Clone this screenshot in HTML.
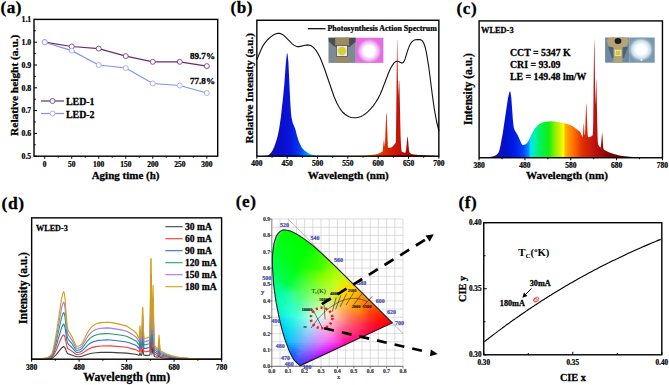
<!DOCTYPE html>
<html><head><meta charset="utf-8"><style>
html,body{margin:0;padding:0;background:#fff;width:669px;height:385px;overflow:hidden}
svg{display:block}
</style></head><body><svg width="669" height="385" viewBox="0 0 669 385"><defs><linearGradient id="gb" gradientUnits="userSpaceOnUse" x1="256.85" y1="0" x2="438.85" y2="0"><stop offset="0" stop-color="#1c0c86"/><stop offset="0.08" stop-color="#1010b8"/><stop offset="0.13" stop-color="#0a0ec8"/><stop offset="0.18" stop-color="#0a14dc"/><stop offset="0.23" stop-color="#0034f0"/><stop offset="0.26" stop-color="#0070ff"/><stop offset="0.29" stop-color="#00b8ff"/><stop offset="0.32" stop-color="#00e0e0"/><stop offset="0.35" stop-color="#00f090"/><stop offset="0.4" stop-color="#30f030"/><stop offset="0.53" stop-color="#f0f000"/><stop offset="0.6" stop-color="#ffa000"/><stop offset="0.66" stop-color="#f04800"/><stop offset="0.71" stop-color="#dc2800"/><stop offset="0.77" stop-color="#c81408"/><stop offset="0.83" stop-color="#a80c04"/><stop offset="0.93" stop-color="#800400"/><stop offset="1" stop-color="#600000"/></linearGradient><radialGradient id="pinkglow"><stop offset="0" stop-color="#fff"/><stop offset="0.45" stop-color="#fff"/><stop offset="0.75" stop-color="#f4b8f4"/><stop offset="1" stop-color="#e274e2"/></radialGradient><linearGradient id="gc" gradientUnits="userSpaceOnUse" x1="479.1" y1="0" x2="662.45" y2="0"><stop offset="0" stop-color="#1a0a7a"/><stop offset="0.1" stop-color="#1a10a8"/><stop offset="0.15" stop-color="#0010d0"/><stop offset="0.2" stop-color="#0020e8"/><stop offset="0.24" stop-color="#0040ff"/><stop offset="0.27" stop-color="#0090ff"/><stop offset="0.28" stop-color="#00e0ff"/><stop offset="0.3" stop-color="#00f0b8"/><stop offset="0.33" stop-color="#00f060"/><stop offset="0.38" stop-color="#10f010"/><stop offset="0.41" stop-color="#80f000"/><stop offset="0.44" stop-color="#d0f000"/><stop offset="0.46" stop-color="#ffff00"/><stop offset="0.47" stop-color="#ffb400"/><stop offset="0.52" stop-color="#ff6800"/><stop offset="0.56" stop-color="#e03200"/><stop offset="0.62" stop-color="#c41410"/><stop offset="0.7" stop-color="#880404"/><stop offset="0.8" stop-color="#560000"/><stop offset="1" stop-color="#300000"/></linearGradient><radialGradient id="whiteglow"><stop offset="0" stop-color="#fff"/><stop offset="0.4" stop-color="#fbfdff"/><stop offset="0.7" stop-color="#c8dbe6"/><stop offset="1" stop-color="#7a9ab0" stop-opacity="0"/></radialGradient><clipPath id="gam"><path d="M300.3,365.6L300,365.6L299.6,365.4L295.9,362L294,359.9L292.5,357.6L290.8,354.3L289.2,350.9L285.3,340.7L282.3,330.8L279.2,318.1L276.2,302.8L274.4,290.6L273.4,282.2L272.5,266.4L272.4,259.1L272.5,255.7L273.1,249.1L274,243.5L274.6,241.1L276.2,236.5L277.2,234.7L278.1,233.4L280.3,231.4L281.5,230.6L282.7,230L283.9,229.8L285.2,229.9L287.8,230.4L290.5,231.1L293.2,232.2L298.4,235.1L303.4,238.4L308.2,241.9L313,245.7L322.4,254.1L334.1,265.2L392.3,322.9Z"/></clipPath><linearGradient id="r0" gradientUnits="userSpaceOnUse" x1="279.2" x2="291.2" y1="0" y2="0"><stop offset="0" stop-color="#c8c8c8"/><stop offset="0.5" stop-color="#00ff00"/><stop offset="1" stop-color="#00ff00"/></linearGradient><linearGradient id="r1" gradientUnits="userSpaceOnUse" x1="276.8" x2="296.2" y1="0" y2="0"><stop offset="0" stop-color="#c8c8c8"/><stop offset="0.33" stop-color="#00ff02"/><stop offset="0.67" stop-color="#00ff00"/><stop offset="1" stop-color="#00ff00"/></linearGradient><linearGradient id="r2" gradientUnits="userSpaceOnUse" x1="275.2" x2="299.8" y1="0" y2="0"><stop offset="0" stop-color="#c8c8c8"/><stop offset="0.25" stop-color="#00ff08"/><stop offset="0.5" stop-color="#00ff00"/><stop offset="0.75" stop-color="#00ff00"/><stop offset="1" stop-color="#00ff00"/></linearGradient><linearGradient id="r3" gradientUnits="userSpaceOnUse" x1="274.2" x2="302.8" y1="0" y2="0"><stop offset="0" stop-color="#c8c8c8"/><stop offset="0.2" stop-color="#00ff0c"/><stop offset="0.4" stop-color="#00ff05"/><stop offset="0.6" stop-color="#00ff00"/><stop offset="0.8" stop-color="#00ff00"/><stop offset="1" stop-color="#00ff00"/></linearGradient><linearGradient id="r4" gradientUnits="userSpaceOnUse" x1="273.8" x2="305.8" y1="0" y2="0"><stop offset="0" stop-color="#c8c8c8"/><stop offset="0.17" stop-color="#00ff11"/><stop offset="0.33" stop-color="#00ff0a"/><stop offset="0.5" stop-color="#00ff03"/><stop offset="0.67" stop-color="#00ff00"/><stop offset="0.83" stop-color="#00ff00"/><stop offset="1" stop-color="#00ff00"/></linearGradient><linearGradient id="r5" gradientUnits="userSpaceOnUse" x1="272.8" x2="308.8" y1="0" y2="0"><stop offset="0" stop-color="#c8c8c8"/><stop offset="0.14" stop-color="#00ff15"/><stop offset="0.29" stop-color="#00ff0f"/><stop offset="0.43" stop-color="#00ff08"/><stop offset="0.57" stop-color="#00ff01"/><stop offset="0.71" stop-color="#00ff00"/><stop offset="0.86" stop-color="#00ff00"/><stop offset="1" stop-color="#0cfe00"/></linearGradient><linearGradient id="r6" gradientUnits="userSpaceOnUse" x1="272.2" x2="311.2" y1="0" y2="0"><stop offset="0" stop-color="#c8c8c8"/><stop offset="0.14" stop-color="#00ff18"/><stop offset="0.29" stop-color="#00ff11"/><stop offset="0.43" stop-color="#00ff0a"/><stop offset="0.57" stop-color="#00ff03"/><stop offset="0.71" stop-color="#00ff00"/><stop offset="0.86" stop-color="#00ff00"/><stop offset="1" stop-color="#17fc00"/></linearGradient><linearGradient id="r7" gradientUnits="userSpaceOnUse" x1="272.2" x2="313.8" y1="0" y2="0"><stop offset="0" stop-color="#c8c8c8"/><stop offset="0.12" stop-color="#00ff1c"/><stop offset="0.25" stop-color="#00ff15"/><stop offset="0.38" stop-color="#00ff0f"/><stop offset="0.5" stop-color="#00ff08"/><stop offset="0.62" stop-color="#00ff01"/><stop offset="0.75" stop-color="#00ff00"/><stop offset="0.88" stop-color="#00ff00"/><stop offset="1" stop-color="#22fb00"/></linearGradient><linearGradient id="r8" gradientUnits="userSpaceOnUse" x1="271.8" x2="316.2" y1="0" y2="0"><stop offset="0" stop-color="#c8c8c8"/><stop offset="0.12" stop-color="#00ff1d"/><stop offset="0.25" stop-color="#00ff17"/><stop offset="0.38" stop-color="#00ff11"/><stop offset="0.5" stop-color="#00ff0a"/><stop offset="0.62" stop-color="#00ff02"/><stop offset="0.75" stop-color="#00ff00"/><stop offset="0.88" stop-color="#07ff00"/><stop offset="1" stop-color="#2dfa00"/></linearGradient><linearGradient id="r9" gradientUnits="userSpaceOnUse" x1="271.2" x2="318.2" y1="0" y2="0"><stop offset="0" stop-color="#00ff2b"/><stop offset="0.11" stop-color="#00ff22"/><stop offset="0.22" stop-color="#00ff19"/><stop offset="0.33" stop-color="#00ff13"/><stop offset="0.44" stop-color="#00ff0e"/><stop offset="0.56" stop-color="#00ff08"/><stop offset="0.67" stop-color="#00ff02"/><stop offset="0.78" stop-color="#05ff00"/><stop offset="0.89" stop-color="#13ff00"/><stop offset="1" stop-color="#33f900"/></linearGradient><linearGradient id="r10" gradientUnits="userSpaceOnUse" x1="271.2" x2="320.8" y1="0" y2="0"><stop offset="0" stop-color="#00ff2f"/><stop offset="0.11" stop-color="#00ff25"/><stop offset="0.22" stop-color="#00ff19"/><stop offset="0.33" stop-color="#00ff13"/><stop offset="0.44" stop-color="#00ff0d"/><stop offset="0.56" stop-color="#00ff07"/><stop offset="0.67" stop-color="#01ff01"/><stop offset="0.78" stop-color="#0cff00"/><stop offset="0.89" stop-color="#20ff00"/><stop offset="1" stop-color="#40f800"/></linearGradient><linearGradient id="r11" gradientUnits="userSpaceOnUse" x1="270.8" x2="322.8" y1="0" y2="0"><stop offset="0" stop-color="#00ff33"/><stop offset="0.1" stop-color="#00ff2b"/><stop offset="0.2" stop-color="#00ff1c"/><stop offset="0.3" stop-color="#00ff15"/><stop offset="0.4" stop-color="#00ff10"/><stop offset="0.5" stop-color="#00ff0a"/><stop offset="0.6" stop-color="#00ff04"/><stop offset="0.7" stop-color="#0aff00"/><stop offset="0.8" stop-color="#14ff00"/><stop offset="0.9" stop-color="#2cff00"/><stop offset="1" stop-color="#4bf900"/></linearGradient><linearGradient id="r12" gradientUnits="userSpaceOnUse" x1="270.8" x2="324.8" y1="0" y2="0"><stop offset="0" stop-color="#00ff37"/><stop offset="0.1" stop-color="#00ff2f"/><stop offset="0.2" stop-color="#00ff1f"/><stop offset="0.3" stop-color="#00ff15"/><stop offset="0.4" stop-color="#00ff0f"/><stop offset="0.5" stop-color="#00ff09"/><stop offset="0.6" stop-color="#02ff04"/><stop offset="0.7" stop-color="#10ff00"/><stop offset="0.8" stop-color="#1bff00"/><stop offset="0.9" stop-color="#36ff00"/><stop offset="1" stop-color="#56f900"/></linearGradient><linearGradient id="r13" gradientUnits="userSpaceOnUse" x1="270.8" x2="327.2" y1="0" y2="0"><stop offset="0" stop-color="#00ff3b"/><stop offset="0.09" stop-color="#00ff34"/><stop offset="0.18" stop-color="#00ff24"/><stop offset="0.27" stop-color="#00ff17"/><stop offset="0.36" stop-color="#00ff11"/><stop offset="0.45" stop-color="#00ff0c"/><stop offset="0.55" stop-color="#00ff06"/><stop offset="0.64" stop-color="#0eff03"/><stop offset="0.73" stop-color="#1aff00"/><stop offset="0.82" stop-color="#29ff00"/><stop offset="0.91" stop-color="#45ff00"/><stop offset="1" stop-color="#64f900"/></linearGradient><linearGradient id="r14" gradientUnits="userSpaceOnUse" x1="270.8" x2="329.2" y1="0" y2="0"><stop offset="0" stop-color="#00ff3f"/><stop offset="0.09" stop-color="#00ff37"/><stop offset="0.18" stop-color="#00ff27"/><stop offset="0.27" stop-color="#00ff18"/><stop offset="0.36" stop-color="#00ff11"/><stop offset="0.45" stop-color="#00ff0b"/><stop offset="0.55" stop-color="#05ff06"/><stop offset="0.64" stop-color="#13ff03"/><stop offset="0.73" stop-color="#20ff00"/><stop offset="0.82" stop-color="#32ff00"/><stop offset="0.91" stop-color="#4fff00"/><stop offset="1" stop-color="#6ef900"/></linearGradient><linearGradient id="r15" gradientUnits="userSpaceOnUse" x1="270.8" x2="331.2" y1="0" y2="0"><stop offset="0" stop-color="#00ff43"/><stop offset="0.08" stop-color="#00ff3c"/><stop offset="0.17" stop-color="#00ff2d"/><stop offset="0.25" stop-color="#00ff1e"/><stop offset="0.33" stop-color="#00ff13"/><stop offset="0.42" stop-color="#00ff0e"/><stop offset="0.5" stop-color="#03ff08"/><stop offset="0.58" stop-color="#10ff05"/><stop offset="0.67" stop-color="#1dff02"/><stop offset="0.75" stop-color="#29ff00"/><stop offset="0.83" stop-color="#40ff00"/><stop offset="0.92" stop-color="#5bff00"/><stop offset="1" stop-color="#79f900"/></linearGradient><linearGradient id="r16" gradientUnits="userSpaceOnUse" x1="270.8" x2="333.2" y1="0" y2="0"><stop offset="0" stop-color="#00ff47"/><stop offset="0.08" stop-color="#00ff40"/><stop offset="0.17" stop-color="#00ff30"/><stop offset="0.25" stop-color="#00ff21"/><stop offset="0.33" stop-color="#00ff13"/><stop offset="0.42" stop-color="#00ff0d"/><stop offset="0.5" stop-color="#08ff09"/><stop offset="0.58" stop-color="#15ff06"/><stop offset="0.67" stop-color="#23ff02"/><stop offset="0.75" stop-color="#2fff00"/><stop offset="0.83" stop-color="#49ff00"/><stop offset="0.92" stop-color="#65ff00"/><stop offset="1" stop-color="#84fa00"/></linearGradient><linearGradient id="r17" gradientUnits="userSpaceOnUse" x1="270.8" x2="335.2" y1="0" y2="0"><stop offset="0" stop-color="#00ff4b"/><stop offset="0.08" stop-color="#00ff43"/><stop offset="0.17" stop-color="#00ff33"/><stop offset="0.25" stop-color="#00ff23"/><stop offset="0.33" stop-color="#00ff13"/><stop offset="0.42" stop-color="#00ff0d"/><stop offset="0.5" stop-color="#0dff09"/><stop offset="0.58" stop-color="#1bff06"/><stop offset="0.67" stop-color="#29ff02"/><stop offset="0.75" stop-color="#36ff00"/><stop offset="0.83" stop-color="#53ff00"/><stop offset="0.92" stop-color="#6fff00"/><stop offset="1" stop-color="#8ffa00"/></linearGradient><linearGradient id="r18" gradientUnits="userSpaceOnUse" x1="270.8" x2="337.2" y1="0" y2="0"><stop offset="0" stop-color="#00ff4f"/><stop offset="0.08" stop-color="#00ff48"/><stop offset="0.15" stop-color="#00ff39"/><stop offset="0.23" stop-color="#00ff2a"/><stop offset="0.31" stop-color="#00ff1b"/><stop offset="0.38" stop-color="#00ff0f"/><stop offset="0.46" stop-color="#0bff0b"/><stop offset="0.54" stop-color="#18ff08"/><stop offset="0.62" stop-color="#25ff05"/><stop offset="0.69" stop-color="#33ff01"/><stop offset="0.77" stop-color="#45ff00"/><stop offset="0.85" stop-color="#60ff00"/><stop offset="0.92" stop-color="#83ff01"/><stop offset="1" stop-color="#9cf901"/></linearGradient><linearGradient id="r19" gradientUnits="userSpaceOnUse" x1="270.8" x2="339.8" y1="0" y2="0"><stop offset="0" stop-color="#00ff53"/><stop offset="0.08" stop-color="#00ff4c"/><stop offset="0.15" stop-color="#00ff3c"/><stop offset="0.23" stop-color="#00ff2c"/><stop offset="0.31" stop-color="#00ff1c"/><stop offset="0.38" stop-color="#02ff0f"/><stop offset="0.46" stop-color="#10ff0c"/><stop offset="0.54" stop-color="#1eff08"/><stop offset="0.62" stop-color="#2bff05"/><stop offset="0.69" stop-color="#39ff01"/><stop offset="0.77" stop-color="#54ff00"/><stop offset="0.85" stop-color="#7fff00"/><stop offset="0.92" stop-color="#91ff04"/><stop offset="1" stop-color="#aff603"/></linearGradient><linearGradient id="r20" gradientUnits="userSpaceOnUse" x1="270.8" x2="341.8" y1="0" y2="0"><stop offset="0" stop-color="#00ff57"/><stop offset="0.07" stop-color="#00ff50"/><stop offset="0.14" stop-color="#00ff41"/><stop offset="0.21" stop-color="#00ff32"/><stop offset="0.29" stop-color="#00ff23"/><stop offset="0.36" stop-color="#03ff15"/><stop offset="0.43" stop-color="#19ff0d"/><stop offset="0.5" stop-color="#27ff0a"/><stop offset="0.57" stop-color="#34ff06"/><stop offset="0.64" stop-color="#41ff03"/><stop offset="0.71" stop-color="#51ff00"/><stop offset="0.79" stop-color="#7aff00"/><stop offset="0.86" stop-color="#8eff04"/><stop offset="0.93" stop-color="#a2fd06"/><stop offset="1" stop-color="#bff405"/></linearGradient><linearGradient id="r21" gradientUnits="userSpaceOnUse" x1="270.8" x2="343.8" y1="0" y2="0"><stop offset="0" stop-color="#00ff5b"/><stop offset="0.07" stop-color="#00ff54"/><stop offset="0.14" stop-color="#00ff45"/><stop offset="0.21" stop-color="#00ff35"/><stop offset="0.29" stop-color="#00ff24"/><stop offset="0.36" stop-color="#0bff1c"/><stop offset="0.43" stop-color="#22ff13"/><stop offset="0.5" stop-color="#39ff09"/><stop offset="0.57" stop-color="#47ff06"/><stop offset="0.64" stop-color="#54ff02"/><stop offset="0.71" stop-color="#6cff00"/><stop offset="0.79" stop-color="#89ff02"/><stop offset="0.86" stop-color="#9aff07"/><stop offset="0.93" stop-color="#b2fb08"/><stop offset="1" stop-color="#cff207"/></linearGradient><linearGradient id="r22" gradientUnits="userSpaceOnUse" x1="271.2" x2="345.8" y1="0" y2="0"><stop offset="0" stop-color="#00ff5f"/><stop offset="0.07" stop-color="#00ff56"/><stop offset="0.14" stop-color="#00ff46"/><stop offset="0.21" stop-color="#00ff35"/><stop offset="0.29" stop-color="#00ff24"/><stop offset="0.36" stop-color="#14ff22"/><stop offset="0.43" stop-color="#2cff19"/><stop offset="0.5" stop-color="#43ff0f"/><stop offset="0.57" stop-color="#5aff05"/><stop offset="0.64" stop-color="#68ff01"/><stop offset="0.71" stop-color="#83ff01"/><stop offset="0.79" stop-color="#95ff05"/><stop offset="0.86" stop-color="#a6ff0a"/><stop offset="0.93" stop-color="#c1f90a"/><stop offset="1" stop-color="#def008"/></linearGradient><linearGradient id="r23" gradientUnits="userSpaceOnUse" x1="271.2" x2="347.8" y1="0" y2="0"><stop offset="0" stop-color="#00ff67"/><stop offset="0.07" stop-color="#00ff5b"/><stop offset="0.13" stop-color="#00ff4a"/><stop offset="0.2" stop-color="#00ff3a"/><stop offset="0.27" stop-color="#00ff29"/><stop offset="0.33" stop-color="#14ff28"/><stop offset="0.4" stop-color="#2bff23"/><stop offset="0.47" stop-color="#41ff19"/><stop offset="0.53" stop-color="#58ff0f"/><stop offset="0.6" stop-color="#6eff06"/><stop offset="0.67" stop-color="#83ff01"/><stop offset="0.73" stop-color="#93ff05"/><stop offset="0.8" stop-color="#a4ff09"/><stop offset="0.87" stop-color="#b5ff0d"/><stop offset="0.93" stop-color="#d1f60c"/><stop offset="1" stop-color="#e5ea07"/></linearGradient><linearGradient id="r24" gradientUnits="userSpaceOnUse" x1="271.2" x2="349.8" y1="0" y2="0"><stop offset="0" stop-color="#00ff70"/><stop offset="0.07" stop-color="#00ff5f"/><stop offset="0.13" stop-color="#00ff4c"/><stop offset="0.2" stop-color="#00ff3b"/><stop offset="0.27" stop-color="#03ff2d"/><stop offset="0.33" stop-color="#1cff2f"/><stop offset="0.4" stop-color="#33ff2a"/><stop offset="0.47" stop-color="#4aff1f"/><stop offset="0.53" stop-color="#61ff15"/><stop offset="0.6" stop-color="#78ff0b"/><stop offset="0.67" stop-color="#8cff07"/><stop offset="0.73" stop-color="#9eff09"/><stop offset="0.8" stop-color="#b0ff0c"/><stop offset="0.87" stop-color="#c4fd0f"/><stop offset="0.93" stop-color="#d8f10a"/><stop offset="1" stop-color="#ece405"/></linearGradient><linearGradient id="r25" gradientUnits="userSpaceOnUse" x1="271.2" x2="351.8" y1="0" y2="0"><stop offset="0" stop-color="#00ff74"/><stop offset="0.06" stop-color="#00ff67"/><stop offset="0.12" stop-color="#00ff50"/><stop offset="0.19" stop-color="#00ff40"/><stop offset="0.25" stop-color="#04ff33"/><stop offset="0.31" stop-color="#1cff35"/><stop offset="0.38" stop-color="#33ff34"/><stop offset="0.44" stop-color="#49ff2a"/><stop offset="0.5" stop-color="#5fff20"/><stop offset="0.56" stop-color="#75ff16"/><stop offset="0.62" stop-color="#89ff0f"/><stop offset="0.69" stop-color="#9bff0f"/><stop offset="0.75" stop-color="#acff12"/><stop offset="0.81" stop-color="#bdff14"/><stop offset="0.88" stop-color="#ccf60d"/><stop offset="0.94" stop-color="#dfea08"/><stop offset="1" stop-color="#f2de03"/></linearGradient><linearGradient id="r26" gradientUnits="userSpaceOnUse" x1="271.8" x2="353.8" y1="0" y2="0"><stop offset="0" stop-color="#00ff78"/><stop offset="0.06" stop-color="#00ff72"/><stop offset="0.12" stop-color="#00ff53"/><stop offset="0.19" stop-color="#00ff40"/><stop offset="0.25" stop-color="#0dff39"/><stop offset="0.31" stop-color="#25ff3b"/><stop offset="0.38" stop-color="#3cff3a"/><stop offset="0.44" stop-color="#53ff30"/><stop offset="0.5" stop-color="#69ff26"/><stop offset="0.56" stop-color="#7fff1d"/><stop offset="0.62" stop-color="#93ff16"/><stop offset="0.69" stop-color="#a4ff18"/><stop offset="0.75" stop-color="#b6ff1a"/><stop offset="0.81" stop-color="#cbfa12"/><stop offset="0.88" stop-color="#d7ef0a"/><stop offset="0.94" stop-color="#e6e406"/><stop offset="1" stop-color="#f9d802"/></linearGradient><linearGradient id="r27" gradientUnits="userSpaceOnUse" x1="271.8" x2="355.8" y1="0" y2="0"><stop offset="0" stop-color="#00ff7d"/><stop offset="0.06" stop-color="#00ff81"/><stop offset="0.12" stop-color="#00ff60"/><stop offset="0.19" stop-color="#00ff41"/><stop offset="0.25" stop-color="#14ff40"/><stop offset="0.31" stop-color="#2cff42"/><stop offset="0.38" stop-color="#45ff40"/><stop offset="0.44" stop-color="#5cff36"/><stop offset="0.5" stop-color="#72ff2c"/><stop offset="0.56" stop-color="#87ff25"/><stop offset="0.62" stop-color="#9bff1e"/><stop offset="0.69" stop-color="#aeff20"/><stop offset="0.75" stop-color="#bfff22"/><stop offset="0.81" stop-color="#d9f30c"/><stop offset="0.88" stop-color="#e3e907"/><stop offset="0.94" stop-color="#ecdf05"/><stop offset="1" stop-color="#ffd100"/></linearGradient><linearGradient id="r28" gradientUnits="userSpaceOnUse" x1="271.8" x2="357.8" y1="0" y2="0"><stop offset="0" stop-color="#00ff81"/><stop offset="0.06" stop-color="#00ff91"/><stop offset="0.12" stop-color="#00ff71"/><stop offset="0.18" stop-color="#00ff52"/><stop offset="0.24" stop-color="#15ff46"/><stop offset="0.29" stop-color="#2dff48"/><stop offset="0.35" stop-color="#44ff4a"/><stop offset="0.41" stop-color="#5bff40"/><stop offset="0.47" stop-color="#70ff37"/><stop offset="0.53" stop-color="#84ff30"/><stop offset="0.59" stop-color="#98ff2a"/><stop offset="0.65" stop-color="#abff26"/><stop offset="0.71" stop-color="#bcff28"/><stop offset="0.76" stop-color="#d3f518"/><stop offset="0.82" stop-color="#e9ea06"/><stop offset="0.88" stop-color="#f0e104"/><stop offset="0.94" stop-color="#f6d702"/><stop offset="1" stop-color="#ffc500"/></linearGradient><linearGradient id="r29" gradientUnits="userSpaceOnUse" x1="272.2" x2="359.8" y1="0" y2="0"><stop offset="0" stop-color="#00ff85"/><stop offset="0.06" stop-color="#00ff99"/><stop offset="0.12" stop-color="#00ff7c"/><stop offset="0.18" stop-color="#0bff64"/><stop offset="0.24" stop-color="#1fff53"/><stop offset="0.29" stop-color="#36ff4e"/><stop offset="0.35" stop-color="#4eff50"/><stop offset="0.41" stop-color="#64ff46"/><stop offset="0.47" stop-color="#79ff3e"/><stop offset="0.53" stop-color="#8dff38"/><stop offset="0.59" stop-color="#a1ff31"/><stop offset="0.65" stop-color="#b4ff2e"/><stop offset="0.71" stop-color="#c8fb28"/><stop offset="0.76" stop-color="#e2ee12"/><stop offset="0.82" stop-color="#f5e303"/><stop offset="0.88" stop-color="#fcda01"/><stop offset="0.94" stop-color="#ffcf00"/><stop offset="1" stop-color="#ffb900"/></linearGradient><linearGradient id="r30" gradientUnits="userSpaceOnUse" x1="272.2" x2="361.8" y1="0" y2="0"><stop offset="0" stop-color="#00ff8a"/><stop offset="0.06" stop-color="#00ff9d"/><stop offset="0.12" stop-color="#00ff89"/><stop offset="0.18" stop-color="#14ff78"/><stop offset="0.24" stop-color="#29ff67"/><stop offset="0.29" stop-color="#3dff55"/><stop offset="0.35" stop-color="#56ff56"/><stop offset="0.41" stop-color="#6cff4d"/><stop offset="0.47" stop-color="#81ff46"/><stop offset="0.53" stop-color="#95ff3f"/><stop offset="0.59" stop-color="#aaff38"/><stop offset="0.65" stop-color="#bdff36"/><stop offset="0.71" stop-color="#d6f423"/><stop offset="0.76" stop-color="#f0e70c"/><stop offset="0.82" stop-color="#ffdc00"/><stop offset="0.88" stop-color="#ffd100"/><stop offset="0.94" stop-color="#ffc201"/><stop offset="1" stop-color="#ffad00"/></linearGradient><linearGradient id="r31" gradientUnits="userSpaceOnUse" x1="272.8" x2="363.8" y1="0" y2="0"><stop offset="0" stop-color="#00ff8e"/><stop offset="0.06" stop-color="#00ffa2"/><stop offset="0.11" stop-color="#08ff9d"/><stop offset="0.17" stop-color="#1cff8d"/><stop offset="0.22" stop-color="#2fff7d"/><stop offset="0.28" stop-color="#43ff6c"/><stop offset="0.33" stop-color="#57ff5d"/><stop offset="0.39" stop-color="#6cff57"/><stop offset="0.44" stop-color="#80ff51"/><stop offset="0.5" stop-color="#94ff4a"/><stop offset="0.56" stop-color="#a7ff44"/><stop offset="0.61" stop-color="#bbff3d"/><stop offset="0.67" stop-color="#d2f62d"/><stop offset="0.72" stop-color="#e9e919"/><stop offset="0.78" stop-color="#ffdc06"/><stop offset="0.83" stop-color="#ffd100"/><stop offset="0.89" stop-color="#ffc600"/><stop offset="0.94" stop-color="#ffb304"/><stop offset="1" stop-color="#ffa200"/></linearGradient><linearGradient id="r32" gradientUnits="userSpaceOnUse" x1="272.8" x2="365.8" y1="0" y2="0"><stop offset="0" stop-color="#00ff92"/><stop offset="0.06" stop-color="#00ffa6"/><stop offset="0.11" stop-color="#0cffaa"/><stop offset="0.17" stop-color="#20ff9a"/><stop offset="0.22" stop-color="#35ff89"/><stop offset="0.28" stop-color="#49ff78"/><stop offset="0.33" stop-color="#5dff67"/><stop offset="0.39" stop-color="#74ff61"/><stop offset="0.44" stop-color="#88ff5b"/><stop offset="0.5" stop-color="#9cff54"/><stop offset="0.56" stop-color="#b0ff4d"/><stop offset="0.61" stop-color="#c4fc45"/><stop offset="0.67" stop-color="#d8ee30"/><stop offset="0.72" stop-color="#eee01c"/><stop offset="0.78" stop-color="#ffd30a"/><stop offset="0.83" stop-color="#ffc800"/><stop offset="0.89" stop-color="#ffb802"/><stop offset="0.94" stop-color="#ffa704"/><stop offset="1" stop-color="#ff9600"/></linearGradient><linearGradient id="r33" gradientUnits="userSpaceOnUse" x1="273.2" x2="367.8" y1="0" y2="0"><stop offset="0" stop-color="#00ff96"/><stop offset="0.06" stop-color="#01ffab"/><stop offset="0.11" stop-color="#0fffb1"/><stop offset="0.17" stop-color="#23ff9f"/><stop offset="0.22" stop-color="#38ff8e"/><stop offset="0.28" stop-color="#4cff7d"/><stop offset="0.33" stop-color="#65ff71"/><stop offset="0.39" stop-color="#7dff6d"/><stop offset="0.44" stop-color="#92ff66"/><stop offset="0.5" stop-color="#a6ff5f"/><stop offset="0.56" stop-color="#bbff58"/><stop offset="0.61" stop-color="#cbf44a"/><stop offset="0.67" stop-color="#dde532"/><stop offset="0.72" stop-color="#f4d71e"/><stop offset="0.78" stop-color="#ffca0e"/><stop offset="0.83" stop-color="#ffbf01"/><stop offset="0.89" stop-color="#ffaa04"/><stop offset="0.94" stop-color="#ff9b04"/><stop offset="1" stop-color="#ff8a00"/></linearGradient><linearGradient id="r34" gradientUnits="userSpaceOnUse" x1="273.8" x2="369.8" y1="0" y2="0"><stop offset="0" stop-color="#00ff9b"/><stop offset="0.05" stop-color="#04ffac"/><stop offset="0.11" stop-color="#0fffb8"/><stop offset="0.16" stop-color="#23ffa8"/><stop offset="0.21" stop-color="#37ff98"/><stop offset="0.26" stop-color="#4aff87"/><stop offset="0.32" stop-color="#63ff7c"/><stop offset="0.37" stop-color="#7fff7a"/><stop offset="0.42" stop-color="#93ff74"/><stop offset="0.47" stop-color="#a6ff6d"/><stop offset="0.53" stop-color="#baff67"/><stop offset="0.58" stop-color="#cef862"/><stop offset="0.63" stop-color="#d6e542"/><stop offset="0.68" stop-color="#ead72e"/><stop offset="0.74" stop-color="#ffca1c"/><stop offset="0.79" stop-color="#ffbf10"/><stop offset="0.84" stop-color="#ffae02"/><stop offset="0.89" stop-color="#ff9a06"/><stop offset="0.95" stop-color="#ff8f04"/><stop offset="1" stop-color="#ff7e00"/></linearGradient><linearGradient id="r35" gradientUnits="userSpaceOnUse" x1="273.8" x2="371.8" y1="0" y2="0"><stop offset="0" stop-color="#00fda0"/><stop offset="0.05" stop-color="#07ffac"/><stop offset="0.11" stop-color="#11ffbc"/><stop offset="0.16" stop-color="#24ffaf"/><stop offset="0.21" stop-color="#38ff9e"/><stop offset="0.26" stop-color="#4cff8e"/><stop offset="0.32" stop-color="#6aff88"/><stop offset="0.37" stop-color="#87ff86"/><stop offset="0.42" stop-color="#9bff7f"/><stop offset="0.47" stop-color="#afff79"/><stop offset="0.53" stop-color="#c4fe74"/><stop offset="0.58" stop-color="#d5f168"/><stop offset="0.63" stop-color="#dddd48"/><stop offset="0.68" stop-color="#efce31"/><stop offset="0.74" stop-color="#ffc120"/><stop offset="0.79" stop-color="#ffb710"/><stop offset="0.84" stop-color="#ffa303"/><stop offset="0.89" stop-color="#ff8c08"/><stop offset="0.95" stop-color="#ff8304"/><stop offset="1" stop-color="#ff7300"/></linearGradient><linearGradient id="r36" gradientUnits="userSpaceOnUse" x1="274.2" x2="373.8" y1="0" y2="0"><stop offset="0" stop-color="#00fda5"/><stop offset="0.05" stop-color="#0affae"/><stop offset="0.11" stop-color="#15ffbe"/><stop offset="0.16" stop-color="#27ffb5"/><stop offset="0.21" stop-color="#3bffa4"/><stop offset="0.26" stop-color="#50ff93"/><stop offset="0.32" stop-color="#74ff94"/><stop offset="0.37" stop-color="#90ff91"/><stop offset="0.42" stop-color="#a5ff8a"/><stop offset="0.47" stop-color="#b9ff84"/><stop offset="0.53" stop-color="#d0fb85"/><stop offset="0.58" stop-color="#dcea6d"/><stop offset="0.63" stop-color="#e4d54d"/><stop offset="0.68" stop-color="#f5c534"/><stop offset="0.74" stop-color="#ffb924"/><stop offset="0.79" stop-color="#ffaf0e"/><stop offset="0.84" stop-color="#ff9804"/><stop offset="0.89" stop-color="#ff7e0a"/><stop offset="0.95" stop-color="#ff7704"/><stop offset="1" stop-color="#ff6900"/></linearGradient><linearGradient id="r37" gradientUnits="userSpaceOnUse" x1="274.2" x2="375.8" y1="0" y2="0"><stop offset="0" stop-color="#00faae"/><stop offset="0.05" stop-color="#0cffad"/><stop offset="0.1" stop-color="#17ffbd"/><stop offset="0.15" stop-color="#25ffbf"/><stop offset="0.2" stop-color="#39ffae"/><stop offset="0.25" stop-color="#4dff9e"/><stop offset="0.3" stop-color="#6fff9e"/><stop offset="0.35" stop-color="#91ff9f"/><stop offset="0.4" stop-color="#a5ff99"/><stop offset="0.45" stop-color="#b9ff92"/><stop offset="0.5" stop-color="#cffb93"/><stop offset="0.55" stop-color="#dfee86"/><stop offset="0.6" stop-color="#e7db66"/><stop offset="0.65" stop-color="#eec747"/><stop offset="0.7" stop-color="#ffb932"/><stop offset="0.75" stop-color="#ffaf1f"/><stop offset="0.8" stop-color="#ffa508"/><stop offset="0.85" stop-color="#ff8807"/><stop offset="0.9" stop-color="#ff6e0c"/><stop offset="0.95" stop-color="#ff6b04"/><stop offset="1" stop-color="#ff6000"/></linearGradient><linearGradient id="r38" gradientUnits="userSpaceOnUse" x1="274.8" x2="377.8" y1="0" y2="0"><stop offset="0" stop-color="#00f6b7"/><stop offset="0.05" stop-color="#0dfeb5"/><stop offset="0.1" stop-color="#1bffbe"/><stop offset="0.15" stop-color="#28ffc5"/><stop offset="0.2" stop-color="#3cffb4"/><stop offset="0.25" stop-color="#51ffa5"/><stop offset="0.3" stop-color="#7affaa"/><stop offset="0.35" stop-color="#9affaa"/><stop offset="0.4" stop-color="#afffa4"/><stop offset="0.45" stop-color="#c3fe9f"/><stop offset="0.5" stop-color="#dbf8a4"/><stop offset="0.55" stop-color="#e6e78b"/><stop offset="0.6" stop-color="#eed36b"/><stop offset="0.65" stop-color="#f6bf4b"/><stop offset="0.7" stop-color="#ffb034"/><stop offset="0.75" stop-color="#ffa71d"/><stop offset="0.8" stop-color="#ff9d06"/><stop offset="0.85" stop-color="#ff7d08"/><stop offset="0.9" stop-color="#ff620d"/><stop offset="0.95" stop-color="#ff5f04"/><stop offset="1" stop-color="#ff5700"/></linearGradient><linearGradient id="r39" gradientUnits="userSpaceOnUse" x1="275.2" x2="379.8" y1="0" y2="0"><stop offset="0" stop-color="#00f2c1"/><stop offset="0.05" stop-color="#0dfcbf"/><stop offset="0.1" stop-color="#1effc0"/><stop offset="0.15" stop-color="#2bffcb"/><stop offset="0.2" stop-color="#3fffba"/><stop offset="0.25" stop-color="#5bffb1"/><stop offset="0.3" stop-color="#84ffb6"/><stop offset="0.35" stop-color="#a4ffb6"/><stop offset="0.4" stop-color="#b8ffaf"/><stop offset="0.45" stop-color="#cffbaf"/><stop offset="0.5" stop-color="#e6f3b1"/><stop offset="0.55" stop-color="#eedf91"/><stop offset="0.6" stop-color="#f6cb70"/><stop offset="0.65" stop-color="#feb750"/><stop offset="0.7" stop-color="#ffa833"/><stop offset="0.75" stop-color="#ff9f1b"/><stop offset="0.8" stop-color="#ff9504"/><stop offset="0.85" stop-color="#ff7209"/><stop offset="0.9" stop-color="#ff560d"/><stop offset="0.95" stop-color="#ff5302"/><stop offset="1" stop-color="#ff4d00"/></linearGradient><linearGradient id="r40" gradientUnits="userSpaceOnUse" x1="275.8" x2="381.8" y1="0" y2="0"><stop offset="0" stop-color="#00efca"/><stop offset="0.05" stop-color="#0cfac9"/><stop offset="0.1" stop-color="#20fec4"/><stop offset="0.14" stop-color="#2cffd0"/><stop offset="0.19" stop-color="#3effc3"/><stop offset="0.24" stop-color="#5affbb"/><stop offset="0.29" stop-color="#82ffc0"/><stop offset="0.33" stop-color="#a6ffc3"/><stop offset="0.38" stop-color="#baffbd"/><stop offset="0.43" stop-color="#d0fbbe"/><stop offset="0.48" stop-color="#e7f4c3"/><stop offset="0.52" stop-color="#f1e2a7"/><stop offset="0.57" stop-color="#f8cf88"/><stop offset="0.62" stop-color="#feb965"/><stop offset="0.67" stop-color="#ffa146"/><stop offset="0.71" stop-color="#ff992e"/><stop offset="0.76" stop-color="#ff9116"/><stop offset="0.81" stop-color="#ff8405"/><stop offset="0.86" stop-color="#ff5c0f"/><stop offset="0.9" stop-color="#ff4a09"/><stop offset="0.95" stop-color="#ff4700"/><stop offset="1" stop-color="#ff4100"/></linearGradient><linearGradient id="r41" gradientUnits="userSpaceOnUse" x1="275.8" x2="383.8" y1="0" y2="0"><stop offset="0" stop-color="#00ebd3"/><stop offset="0.05" stop-color="#0af7d3"/><stop offset="0.1" stop-color="#1efcce"/><stop offset="0.14" stop-color="#2fffd1"/><stop offset="0.19" stop-color="#40ffca"/><stop offset="0.24" stop-color="#61ffc7"/><stop offset="0.29" stop-color="#89ffcc"/><stop offset="0.33" stop-color="#aeffcf"/><stop offset="0.38" stop-color="#c2fec9"/><stop offset="0.43" stop-color="#daf8ce"/><stop offset="0.48" stop-color="#f0f0ce"/><stop offset="0.52" stop-color="#f8dcae"/><stop offset="0.57" stop-color="#fcc58a"/><stop offset="0.62" stop-color="#ffac62"/><stop offset="0.67" stop-color="#ff9449"/><stop offset="0.71" stop-color="#ff8c31"/><stop offset="0.76" stop-color="#ff8519"/><stop offset="0.81" stop-color="#ff710f"/><stop offset="0.86" stop-color="#ff4919"/><stop offset="0.9" stop-color="#ff3f06"/><stop offset="0.95" stop-color="#ff3b00"/><stop offset="1" stop-color="#ff3500"/></linearGradient><linearGradient id="r42" gradientUnits="userSpaceOnUse" x1="276.2" x2="385.8" y1="0" y2="0"><stop offset="0" stop-color="#00e8dd"/><stop offset="0.05" stop-color="#0af5dd"/><stop offset="0.1" stop-color="#1efad8"/><stop offset="0.14" stop-color="#33ffd3"/><stop offset="0.19" stop-color="#43ffcf"/><stop offset="0.24" stop-color="#6affd3"/><stop offset="0.29" stop-color="#93ffd8"/><stop offset="0.33" stop-color="#b7ffda"/><stop offset="0.38" stop-color="#cdfbda"/><stop offset="0.43" stop-color="#e6f5df"/><stop offset="0.48" stop-color="#f7e9d4"/><stop offset="0.52" stop-color="#fbd1ae"/><stop offset="0.57" stop-color="#feb786"/><stop offset="0.62" stop-color="#ff9e64"/><stop offset="0.67" stop-color="#ff884b"/><stop offset="0.71" stop-color="#ff8033"/><stop offset="0.76" stop-color="#ff751f"/><stop offset="0.81" stop-color="#ff5d18"/><stop offset="0.86" stop-color="#ff3d18"/><stop offset="0.9" stop-color="#ff3303"/><stop offset="0.95" stop-color="#ff2f00"/><stop offset="1" stop-color="#ff2900"/></linearGradient><linearGradient id="r43" gradientUnits="userSpaceOnUse" x1="276.8" x2="387.8" y1="0" y2="0"><stop offset="0" stop-color="#00e4e6"/><stop offset="0.05" stop-color="#09f3e7"/><stop offset="0.09" stop-color="#1df8e2"/><stop offset="0.14" stop-color="#30fddd"/><stop offset="0.18" stop-color="#43ffd9"/><stop offset="0.23" stop-color="#6affdd"/><stop offset="0.27" stop-color="#91ffe2"/><stop offset="0.32" stop-color="#b9ffe7"/><stop offset="0.36" stop-color="#d0fbe9"/><stop offset="0.41" stop-color="#e7f5ee"/><stop offset="0.45" stop-color="#f9e9e7"/><stop offset="0.5" stop-color="#fbd0bf"/><stop offset="0.55" stop-color="#fdb798"/><stop offset="0.59" stop-color="#ff9f76"/><stop offset="0.64" stop-color="#ff875e"/><stop offset="0.68" stop-color="#ff7846"/><stop offset="0.73" stop-color="#ff6e32"/><stop offset="0.77" stop-color="#ff6122"/><stop offset="0.82" stop-color="#ff4224"/><stop offset="0.86" stop-color="#ff3012"/><stop offset="0.91" stop-color="#ff2700"/><stop offset="0.95" stop-color="#ff2300"/><stop offset="1" stop-color="#ff1d00"/></linearGradient><linearGradient id="r44" gradientUnits="userSpaceOnUse" x1="277.2" x2="389.8" y1="0" y2="0"><stop offset="0" stop-color="#00e0ef"/><stop offset="0.05" stop-color="#0ce8ed"/><stop offset="0.09" stop-color="#1fefe8"/><stop offset="0.14" stop-color="#31f7e4"/><stop offset="0.18" stop-color="#4afde2"/><stop offset="0.23" stop-color="#72fde7"/><stop offset="0.27" stop-color="#9afdec"/><stop offset="0.32" stop-color="#c1fcf0"/><stop offset="0.36" stop-color="#d7f3ef"/><stop offset="0.41" stop-color="#eceaee"/><stop offset="0.45" stop-color="#fadbe0"/><stop offset="0.5" stop-color="#fcc3bc"/><stop offset="0.55" stop-color="#fea995"/><stop offset="0.59" stop-color="#ff9179"/><stop offset="0.64" stop-color="#ff7960"/><stop offset="0.68" stop-color="#ff6c48"/><stop offset="0.73" stop-color="#ff5e38"/><stop offset="0.77" stop-color="#ff5128"/><stop offset="0.82" stop-color="#ff3229"/><stop offset="0.86" stop-color="#ff2510"/><stop offset="0.91" stop-color="#ff1c02"/><stop offset="0.95" stop-color="#ff1804"/><stop offset="1" stop-color="#ff1300"/></linearGradient><linearGradient id="r45" gradientUnits="userSpaceOnUse" x1="277.8" x2="391.8" y1="0" y2="0"><stop offset="0" stop-color="#00daf1"/><stop offset="0.05" stop-color="#0be3ee"/><stop offset="0.09" stop-color="#1eecea"/><stop offset="0.14" stop-color="#31f5e5"/><stop offset="0.18" stop-color="#50f7e4"/><stop offset="0.23" stop-color="#79f7e9"/><stop offset="0.27" stop-color="#a1f7ef"/><stop offset="0.32" stop-color="#c5f1f1"/><stop offset="0.36" stop-color="#dae7ed"/><stop offset="0.41" stop-color="#f0deed"/><stop offset="0.45" stop-color="#fbccd9"/><stop offset="0.5" stop-color="#fdb5b7"/><stop offset="0.55" stop-color="#ff9c94"/><stop offset="0.59" stop-color="#ff837c"/><stop offset="0.64" stop-color="#ff6a63"/><stop offset="0.68" stop-color="#ff5c4f"/><stop offset="0.73" stop-color="#ff4e3f"/><stop offset="0.77" stop-color="#ff412f"/><stop offset="0.82" stop-color="#ff2826"/><stop offset="0.86" stop-color="#ff1b0a"/><stop offset="0.91" stop-color="#ff1309"/><stop offset="0.95" stop-color="#ff0d0a"/><stop offset="1" stop-color="#ff0a00"/></linearGradient><linearGradient id="r46" gradientUnits="userSpaceOnUse" x1="278.2" x2="393.8" y1="0" y2="0"><stop offset="0" stop-color="#00d4f2"/><stop offset="0.04" stop-color="#0ae0f0"/><stop offset="0.09" stop-color="#1ce8ec"/><stop offset="0.13" stop-color="#2ff1e7"/><stop offset="0.17" stop-color="#4ff0e6"/><stop offset="0.22" stop-color="#77f0eb"/><stop offset="0.26" stop-color="#9ef0f0"/><stop offset="0.3" stop-color="#c1eaf3"/><stop offset="0.35" stop-color="#d6deeb"/><stop offset="0.39" stop-color="#ebd5eb"/><stop offset="0.43" stop-color="#fbc8e1"/><stop offset="0.48" stop-color="#fdb1c0"/><stop offset="0.52" stop-color="#ff99a0"/><stop offset="0.57" stop-color="#ff8188"/><stop offset="0.61" stop-color="#ff6970"/><stop offset="0.65" stop-color="#ff575e"/><stop offset="0.7" stop-color="#ff4851"/><stop offset="0.74" stop-color="#ff3b42"/><stop offset="0.78" stop-color="#ff2738"/><stop offset="0.83" stop-color="#ff1b1c"/><stop offset="0.87" stop-color="#ff1211"/><stop offset="0.91" stop-color="#ff0a10"/><stop offset="0.96" stop-color="#ff020f"/><stop offset="1" stop-color="#ff0100"/></linearGradient><linearGradient id="r47" gradientUnits="userSpaceOnUse" x1="278.8" x2="393.8" y1="0" y2="0"><stop offset="0" stop-color="#00cef3"/><stop offset="0.04" stop-color="#09dcf1"/><stop offset="0.09" stop-color="#1be5ed"/><stop offset="0.13" stop-color="#2dede9"/><stop offset="0.17" stop-color="#53eae8"/><stop offset="0.22" stop-color="#7aeaed"/><stop offset="0.26" stop-color="#a1eaf2"/><stop offset="0.3" stop-color="#c1e1f4"/><stop offset="0.35" stop-color="#d7d4eb"/><stop offset="0.39" stop-color="#eccbe9"/><stop offset="0.43" stop-color="#fcbee0"/><stop offset="0.48" stop-color="#fea7bf"/><stop offset="0.52" stop-color="#ff8da1"/><stop offset="0.57" stop-color="#ff7589"/><stop offset="0.61" stop-color="#ff5e72"/><stop offset="0.65" stop-color="#ff5061"/><stop offset="0.7" stop-color="#ff4056"/><stop offset="0.74" stop-color="#ff304a"/><stop offset="0.78" stop-color="#ff213e"/><stop offset="0.83" stop-color="#ff151e"/><stop offset="0.87" stop-color="#ff0c19"/><stop offset="0.91" stop-color="#ff0417"/><stop offset="0.96" stop-color="#ff000d"/><stop offset="1" stop-color="#ff0005"/></linearGradient><linearGradient id="r48" gradientUnits="userSpaceOnUse" x1="278.8" x2="390.2" y1="0" y2="0"><stop offset="0" stop-color="#00c8f4"/><stop offset="0.05" stop-color="#06d9f3"/><stop offset="0.09" stop-color="#19e1ef"/><stop offset="0.14" stop-color="#2de9eb"/><stop offset="0.18" stop-color="#55e4eb"/><stop offset="0.23" stop-color="#7ce4f0"/><stop offset="0.27" stop-color="#a4e4f4"/><stop offset="0.32" stop-color="#c3d7f5"/><stop offset="0.36" stop-color="#d9caed"/><stop offset="0.41" stop-color="#eec0e7"/><stop offset="0.45" stop-color="#fdb2dc"/><stop offset="0.5" stop-color="#ff9bbb"/><stop offset="0.55" stop-color="#ff7e9e"/><stop offset="0.59" stop-color="#ff6686"/><stop offset="0.64" stop-color="#ff5573"/><stop offset="0.68" stop-color="#ff4663"/><stop offset="0.73" stop-color="#ff3756"/><stop offset="0.77" stop-color="#ff264b"/><stop offset="0.82" stop-color="#ff1839"/><stop offset="0.86" stop-color="#ff0d21"/><stop offset="0.91" stop-color="#ff0520"/><stop offset="0.95" stop-color="#ff0016"/><stop offset="1" stop-color="#ff000d"/></linearGradient><linearGradient id="r49" gradientUnits="userSpaceOnUse" x1="279.2" x2="385.8" y1="0" y2="0"><stop offset="0" stop-color="#00c2f6"/><stop offset="0.05" stop-color="#05d5f5"/><stop offset="0.1" stop-color="#18def0"/><stop offset="0.14" stop-color="#31e2ed"/><stop offset="0.19" stop-color="#59dded"/><stop offset="0.24" stop-color="#80ddf2"/><stop offset="0.29" stop-color="#a7dcf6"/><stop offset="0.33" stop-color="#c5cdf6"/><stop offset="0.38" stop-color="#dbc0ee"/><stop offset="0.43" stop-color="#efb5e6"/><stop offset="0.48" stop-color="#fea7d9"/><stop offset="0.52" stop-color="#ff8db9"/><stop offset="0.57" stop-color="#ff709d"/><stop offset="0.62" stop-color="#ff5b87"/><stop offset="0.67" stop-color="#ff4d76"/><stop offset="0.71" stop-color="#ff3e66"/><stop offset="0.76" stop-color="#ff2f58"/><stop offset="0.81" stop-color="#ff1f4c"/><stop offset="0.86" stop-color="#ff1137"/><stop offset="0.9" stop-color="#ff0729"/><stop offset="0.95" stop-color="#ff0024"/><stop offset="1" stop-color="#ff001a"/></linearGradient><linearGradient id="r50" gradientUnits="userSpaceOnUse" x1="279.8" x2="381.2" y1="0" y2="0"><stop offset="0" stop-color="#00bcf7"/><stop offset="0.05" stop-color="#05d2f6"/><stop offset="0.1" stop-color="#17dbf2"/><stop offset="0.15" stop-color="#35dcf0"/><stop offset="0.2" stop-color="#5dd7f0"/><stop offset="0.25" stop-color="#84d7f4"/><stop offset="0.3" stop-color="#a9d2f8"/><stop offset="0.35" stop-color="#c6c3f8"/><stop offset="0.4" stop-color="#ddb6f0"/><stop offset="0.45" stop-color="#f1aae4"/><stop offset="0.5" stop-color="#fe9bd6"/><stop offset="0.55" stop-color="#ff7fb8"/><stop offset="0.6" stop-color="#ff639c"/><stop offset="0.65" stop-color="#ff538a"/><stop offset="0.7" stop-color="#ff4479"/><stop offset="0.75" stop-color="#ff3669"/><stop offset="0.8" stop-color="#ff275a"/><stop offset="0.85" stop-color="#ff174c"/><stop offset="0.9" stop-color="#ff0936"/><stop offset="0.95" stop-color="#ff0130"/><stop offset="1" stop-color="#ff0026"/></linearGradient><linearGradient id="r51" gradientUnits="userSpaceOnUse" x1="280.8" x2="377.2" y1="0" y2="0"><stop offset="0" stop-color="#00b6f8"/><stop offset="0.05" stop-color="#05d0f7"/><stop offset="0.11" stop-color="#18d9f3"/><stop offset="0.16" stop-color="#3dd5f2"/><stop offset="0.21" stop-color="#65d0f2"/><stop offset="0.26" stop-color="#8cd0f7"/><stop offset="0.32" stop-color="#adc7f9"/><stop offset="0.37" stop-color="#cbb8f9"/><stop offset="0.42" stop-color="#e1abf0"/><stop offset="0.47" stop-color="#f59fe4"/><stop offset="0.53" stop-color="#ff8cd1"/><stop offset="0.58" stop-color="#ff6fb4"/><stop offset="0.63" stop-color="#ff569c"/><stop offset="0.68" stop-color="#ff488b"/><stop offset="0.74" stop-color="#ff3b7b"/><stop offset="0.79" stop-color="#ff2c6a"/><stop offset="0.84" stop-color="#ff1d5a"/><stop offset="0.89" stop-color="#ff0e49"/><stop offset="0.95" stop-color="#ff0239"/><stop offset="1" stop-color="#ff0032"/></linearGradient><linearGradient id="r52" gradientUnits="userSpaceOnUse" x1="281.2" x2="372.8" y1="0" y2="0"><stop offset="0" stop-color="#00b0f9"/><stop offset="0.06" stop-color="#04cdf9"/><stop offset="0.11" stop-color="#19d4f5"/><stop offset="0.17" stop-color="#41cff5"/><stop offset="0.22" stop-color="#69caf5"/><stop offset="0.28" stop-color="#90cafa"/><stop offset="0.33" stop-color="#afbdfa"/><stop offset="0.39" stop-color="#cdaefa"/><stop offset="0.44" stop-color="#e3a1f2"/><stop offset="0.5" stop-color="#f795e5"/><stop offset="0.56" stop-color="#ff7fd3"/><stop offset="0.61" stop-color="#ff63bb"/><stop offset="0.67" stop-color="#ff499c"/><stop offset="0.72" stop-color="#ff3c8c"/><stop offset="0.78" stop-color="#ff2e7b"/><stop offset="0.83" stop-color="#ff206b"/><stop offset="0.89" stop-color="#ff175b"/><stop offset="0.94" stop-color="#ff0849"/><stop offset="1" stop-color="#ff003e"/></linearGradient><linearGradient id="r53" gradientUnits="userSpaceOnUse" x1="281.8" x2="368.2" y1="0" y2="0"><stop offset="0" stop-color="#00aafa"/><stop offset="0.06" stop-color="#04cafa"/><stop offset="0.12" stop-color="#1dcef7"/><stop offset="0.18" stop-color="#45c9f7"/><stop offset="0.24" stop-color="#6dc4f7"/><stop offset="0.29" stop-color="#93c2fb"/><stop offset="0.35" stop-color="#b1b3fb"/><stop offset="0.41" stop-color="#cfa4fb"/><stop offset="0.47" stop-color="#e597f3"/><stop offset="0.53" stop-color="#f88ae7"/><stop offset="0.59" stop-color="#ff74da"/><stop offset="0.65" stop-color="#ff58c2"/><stop offset="0.71" stop-color="#ff3c9d"/><stop offset="0.76" stop-color="#ff2f8d"/><stop offset="0.82" stop-color="#ff217c"/><stop offset="0.88" stop-color="#ff1a6d"/><stop offset="0.94" stop-color="#ff125d"/><stop offset="1" stop-color="#ff034c"/></linearGradient><linearGradient id="r54" gradientUnits="userSpaceOnUse" x1="282.2" x2="364.2" y1="0" y2="0"><stop offset="0" stop-color="#00a4fb"/><stop offset="0.06" stop-color="#03c7fc"/><stop offset="0.12" stop-color="#22c7fa"/><stop offset="0.19" stop-color="#4ac2fa"/><stop offset="0.25" stop-color="#72bdfa"/><stop offset="0.31" stop-color="#96b7fd"/><stop offset="0.38" stop-color="#b4a8fd"/><stop offset="0.44" stop-color="#d299fd"/><stop offset="0.5" stop-color="#e98cf4"/><stop offset="0.56" stop-color="#f67be9"/><stop offset="0.62" stop-color="#ff67df"/><stop offset="0.69" stop-color="#ff4ac6"/><stop offset="0.75" stop-color="#ff2e9d"/><stop offset="0.81" stop-color="#ff218c"/><stop offset="0.88" stop-color="#ff137b"/><stop offset="0.94" stop-color="#ff1b70"/><stop offset="1" stop-color="#ff0c5e"/></linearGradient><linearGradient id="r55" gradientUnits="userSpaceOnUse" x1="282.8" x2="359.8" y1="0" y2="0"><stop offset="0" stop-color="#009efc"/><stop offset="0.07" stop-color="#02c4fd"/><stop offset="0.13" stop-color="#26c1fc"/><stop offset="0.2" stop-color="#4ebcfc"/><stop offset="0.27" stop-color="#76b7fc"/><stop offset="0.33" stop-color="#98adfe"/><stop offset="0.4" stop-color="#b69efe"/><stop offset="0.47" stop-color="#d48ffe"/><stop offset="0.53" stop-color="#e981f6"/><stop offset="0.6" stop-color="#f36dec"/><stop offset="0.67" stop-color="#fd59e2"/><stop offset="0.73" stop-color="#ff3ec8"/><stop offset="0.8" stop-color="#ff219d"/><stop offset="0.87" stop-color="#ff148d"/><stop offset="0.93" stop-color="#ff127f"/><stop offset="1" stop-color="#ff1772"/></linearGradient><linearGradient id="r56" gradientUnits="userSpaceOnUse" x1="283.8" x2="355.8" y1="0" y2="0"><stop offset="0" stop-color="#0198fd"/><stop offset="0.07" stop-color="#06bfff"/><stop offset="0.14" stop-color="#2ebaff"/><stop offset="0.21" stop-color="#56b5ff"/><stop offset="0.29" stop-color="#7eb0ff"/><stop offset="0.36" stop-color="#9da2ff"/><stop offset="0.43" stop-color="#bb93ff"/><stop offset="0.5" stop-color="#d984ff"/><stop offset="0.57" stop-color="#e771f8"/><stop offset="0.64" stop-color="#f15dee"/><stop offset="0.71" stop-color="#fb49e4"/><stop offset="0.79" stop-color="#ff2ec5"/><stop offset="0.86" stop-color="#ff139c"/><stop offset="0.93" stop-color="#ff0a8d"/><stop offset="1" stop-color="#ff1381"/></linearGradient><linearGradient id="r57" gradientUnits="userSpaceOnUse" x1="284.2" x2="351.2" y1="0" y2="0"><stop offset="0" stop-color="#0492fd"/><stop offset="0.08" stop-color="#06b1ff"/><stop offset="0.15" stop-color="#2eacff"/><stop offset="0.23" stop-color="#56a7ff"/><stop offset="0.31" stop-color="#80a2ff"/><stop offset="0.38" stop-color="#9d93ff"/><stop offset="0.46" stop-color="#bc84ff"/><stop offset="0.54" stop-color="#d973ff"/><stop offset="0.62" stop-color="#e45df6"/><stop offset="0.69" stop-color="#ee49ed"/><stop offset="0.77" stop-color="#f735e1"/><stop offset="0.85" stop-color="#fd1fc2"/><stop offset="0.92" stop-color="#ff069d"/><stop offset="1" stop-color="#ff0a90"/></linearGradient><linearGradient id="r58" gradientUnits="userSpaceOnUse" x1="285.2" x2="346.8" y1="0" y2="0"><stop offset="0" stop-color="#058cfe"/><stop offset="0.08" stop-color="#09a1ff"/><stop offset="0.17" stop-color="#319cff"/><stop offset="0.25" stop-color="#5997ff"/><stop offset="0.33" stop-color="#8292ff"/><stop offset="0.42" stop-color="#a083ff"/><stop offset="0.5" stop-color="#be74ff"/><stop offset="0.58" stop-color="#d85dff"/><stop offset="0.67" stop-color="#e149f5"/><stop offset="0.75" stop-color="#eb35eb"/><stop offset="0.83" stop-color="#f220d3"/><stop offset="0.92" stop-color="#f80ab5"/><stop offset="1" stop-color="#ff019f"/></linearGradient><linearGradient id="r59" gradientUnits="userSpaceOnUse" x1="285.8" x2="342.8" y1="0" y2="0"><stop offset="0" stop-color="#0785fe"/><stop offset="0.09" stop-color="#0992ff"/><stop offset="0.18" stop-color="#328dff"/><stop offset="0.27" stop-color="#6592ff"/><stop offset="0.36" stop-color="#8483ff"/><stop offset="0.45" stop-color="#a273ff"/><stop offset="0.55" stop-color="#c064ff"/><stop offset="0.64" stop-color="#d548fd"/><stop offset="0.73" stop-color="#df34f3"/><stop offset="0.82" stop-color="#e71fe3"/><stop offset="0.91" stop-color="#ee09c4"/><stop offset="1" stop-color="#f700ae"/></linearGradient><linearGradient id="r60" gradientUnits="userSpaceOnUse" x1="286.8" x2="338.2" y1="0" y2="0"><stop offset="0" stop-color="#097fff"/><stop offset="0.1" stop-color="#0d83ff"/><stop offset="0.2" stop-color="#357eff"/><stop offset="0.3" stop-color="#6a84ff"/><stop offset="0.4" stop-color="#8773ff"/><stop offset="0.5" stop-color="#a563ff"/><stop offset="0.6" stop-color="#c04fff"/><stop offset="0.7" stop-color="#d234fc"/><stop offset="0.8" stop-color="#dc20f2"/><stop offset="0.9" stop-color="#e20ad5"/><stop offset="1" stop-color="#eb00c0"/></linearGradient><linearGradient id="r61" gradientUnits="userSpaceOnUse" x1="287.2" x2="333.8" y1="0" y2="0"><stop offset="0" stop-color="#0b78ff"/><stop offset="0.11" stop-color="#0d74ff"/><stop offset="0.22" stop-color="#3d76ff"/><stop offset="0.33" stop-color="#6b75ff"/><stop offset="0.44" stop-color="#8864ff"/><stop offset="0.56" stop-color="#a654ff"/><stop offset="0.67" stop-color="#bf3aff"/><stop offset="0.78" stop-color="#cf20fa"/><stop offset="0.89" stop-color="#d70be7"/><stop offset="1" stop-color="#e000d1"/></linearGradient><linearGradient id="r62" gradientUnits="userSpaceOnUse" x1="288.2" x2="329.8" y1="0" y2="0"><stop offset="0" stop-color="#0a6dff"/><stop offset="0.12" stop-color="#1165ff"/><stop offset="0.25" stop-color="#5275ff"/><stop offset="0.38" stop-color="#6f64ff"/><stop offset="0.5" stop-color="#8c54ff"/><stop offset="0.62" stop-color="#a941ff"/><stop offset="0.75" stop-color="#bf22ff"/><stop offset="0.88" stop-color="#cc0af6"/><stop offset="1" stop-color="#d500e1"/></linearGradient><linearGradient id="r63" gradientUnits="userSpaceOnUse" x1="289.2" x2="325.2" y1="0" y2="0"><stop offset="0" stop-color="#0a62ff"/><stop offset="0.14" stop-color="#1d5dff"/><stop offset="0.29" stop-color="#5465ff"/><stop offset="0.43" stop-color="#7155ff"/><stop offset="0.57" stop-color="#8e44ff"/><stop offset="0.71" stop-color="#a72bff"/><stop offset="0.86" stop-color="#be0cff"/><stop offset="1" stop-color="#ca00f2"/></linearGradient><linearGradient id="r64" gradientUnits="userSpaceOnUse" x1="290.2" x2="320.8" y1="0" y2="0"><stop offset="0" stop-color="#0957ff"/><stop offset="0.17" stop-color="#305cff"/><stop offset="0.33" stop-color="#5656ff"/><stop offset="0.5" stop-color="#7048ff"/><stop offset="0.67" stop-color="#8935ff"/><stop offset="0.83" stop-color="#a116ff"/><stop offset="1" stop-color="#b704fc"/></linearGradient><linearGradient id="r65" gradientUnits="userSpaceOnUse" x1="291.8" x2="316.8" y1="0" y2="0"><stop offset="0" stop-color="#094aff"/><stop offset="0.2" stop-color="#3a55ff"/><stop offset="0.4" stop-color="#5549ff"/><stop offset="0.6" stop-color="#6e3aff"/><stop offset="0.8" stop-color="#861dff"/><stop offset="1" stop-color="#9b0dfc"/></linearGradient><linearGradient id="r66" gradientUnits="userSpaceOnUse" x1="292.8" x2="312.2" y1="0" y2="0"><stop offset="0" stop-color="#1544ff"/><stop offset="0.33" stop-color="#4047ff"/><stop offset="0.67" stop-color="#6131ff"/><stop offset="1" stop-color="#7d17fc"/></linearGradient><linearGradient id="r67" gradientUnits="userSpaceOnUse" x1="294.8" x2="308.2" y1="0" y2="0"><stop offset="0" stop-color="#243cff"/><stop offset="0.5" stop-color="#4437ff"/><stop offset="1" stop-color="#6121fc"/></linearGradient><linearGradient id="r68" gradientUnits="userSpaceOnUse" x1="297.2" x2="303.8" y1="0" y2="0"><stop offset="0" stop-color="#2b35ff"/><stop offset="1" stop-color="#442afc"/></linearGradient></defs><text x="11.3" y="13.3" font-size="17.2" text-anchor="middle" fill="#000" font-family="Liberation Serif" font-weight="bold" stroke="#000" stroke-width="0.28" letter-spacing="0.5">(a)</text><line x1="34" y1="156.2" x2="37" y2="156.2" stroke="#000" stroke-width="1" /><text x="26.4" y="158.9" font-size="7.8" text-anchor="middle" fill="#000" font-family="Liberation Serif" font-weight="bold" stroke="#000" stroke-width="0.2426666666666667" >0.5</text><line x1="34" y1="144.8" x2="35.8" y2="144.8" stroke="#000" stroke-width="1" /><line x1="34" y1="133.4" x2="37" y2="133.4" stroke="#000" stroke-width="1" /><text x="26.4" y="136.1" font-size="7.8" text-anchor="middle" fill="#000" font-family="Liberation Serif" font-weight="bold" stroke="#000" stroke-width="0.2426666666666667" >0.6</text><line x1="34" y1="122" x2="35.8" y2="122" stroke="#000" stroke-width="1" /><line x1="34" y1="110.6" x2="37" y2="110.6" stroke="#000" stroke-width="1" /><text x="26.4" y="113.3" font-size="7.8" text-anchor="middle" fill="#000" font-family="Liberation Serif" font-weight="bold" stroke="#000" stroke-width="0.2426666666666667" >0.7</text><line x1="34" y1="99.2" x2="35.8" y2="99.2" stroke="#000" stroke-width="1" /><line x1="34" y1="87.8" x2="37" y2="87.8" stroke="#000" stroke-width="1" /><text x="26.4" y="90.5" font-size="7.8" text-anchor="middle" fill="#000" font-family="Liberation Serif" font-weight="bold" stroke="#000" stroke-width="0.2426666666666667" >0.8</text><line x1="34" y1="76.4" x2="35.8" y2="76.4" stroke="#000" stroke-width="1" /><line x1="34" y1="65" x2="37" y2="65" stroke="#000" stroke-width="1" /><text x="26.4" y="67.7" font-size="7.8" text-anchor="middle" fill="#000" font-family="Liberation Serif" font-weight="bold" stroke="#000" stroke-width="0.2426666666666667" >0.9</text><line x1="34" y1="53.6" x2="35.8" y2="53.6" stroke="#000" stroke-width="1" /><line x1="34" y1="42.2" x2="37" y2="42.2" stroke="#000" stroke-width="1" /><text x="26.4" y="44.9" font-size="7.8" text-anchor="middle" fill="#000" font-family="Liberation Serif" font-weight="bold" stroke="#000" stroke-width="0.2426666666666667" >1.0</text><line x1="34" y1="30.8" x2="35.8" y2="30.8" stroke="#000" stroke-width="1" /><line x1="34" y1="19.4" x2="37" y2="19.4" stroke="#000" stroke-width="1" /><text x="26.4" y="22.1" font-size="7.8" text-anchor="middle" fill="#000" font-family="Liberation Serif" font-weight="bold" stroke="#000" stroke-width="0.2426666666666667" >1.1</text><line x1="44.7" y1="156.2" x2="44.7" y2="158.7" stroke="#000" stroke-width="1" /><text x="44.7" y="166.8" font-size="7.5" text-anchor="middle" fill="#000" font-family="Liberation Serif" font-weight="bold" stroke="#000" stroke-width="0.23333333333333336" >0</text><line x1="58.21" y1="156.2" x2="58.21" y2="157.7" stroke="#000" stroke-width="1" /><line x1="71.72" y1="156.2" x2="71.72" y2="158.7" stroke="#000" stroke-width="1" /><text x="71.72" y="166.8" font-size="7.5" text-anchor="middle" fill="#000" font-family="Liberation Serif" font-weight="bold" stroke="#000" stroke-width="0.23333333333333336" >50</text><line x1="85.23" y1="156.2" x2="85.23" y2="157.7" stroke="#000" stroke-width="1" /><line x1="98.73" y1="156.2" x2="98.73" y2="158.7" stroke="#000" stroke-width="1" /><text x="98.73" y="166.8" font-size="7.5" text-anchor="middle" fill="#000" font-family="Liberation Serif" font-weight="bold" stroke="#000" stroke-width="0.23333333333333336" >100</text><line x1="112.24" y1="156.2" x2="112.24" y2="157.7" stroke="#000" stroke-width="1" /><line x1="125.75" y1="156.2" x2="125.75" y2="158.7" stroke="#000" stroke-width="1" /><text x="125.75" y="166.8" font-size="7.5" text-anchor="middle" fill="#000" font-family="Liberation Serif" font-weight="bold" stroke="#000" stroke-width="0.23333333333333336" >150</text><line x1="139.26" y1="156.2" x2="139.26" y2="157.7" stroke="#000" stroke-width="1" /><line x1="152.77" y1="156.2" x2="152.77" y2="158.7" stroke="#000" stroke-width="1" /><text x="152.77" y="166.8" font-size="7.5" text-anchor="middle" fill="#000" font-family="Liberation Serif" font-weight="bold" stroke="#000" stroke-width="0.23333333333333336" >200</text><line x1="166.28" y1="156.2" x2="166.28" y2="157.7" stroke="#000" stroke-width="1" /><line x1="179.78" y1="156.2" x2="179.78" y2="158.7" stroke="#000" stroke-width="1" /><text x="179.78" y="166.8" font-size="7.5" text-anchor="middle" fill="#000" font-family="Liberation Serif" font-weight="bold" stroke="#000" stroke-width="0.23333333333333336" >250</text><line x1="193.29" y1="156.2" x2="193.29" y2="157.7" stroke="#000" stroke-width="1" /><line x1="206.8" y1="156.2" x2="206.8" y2="158.7" stroke="#000" stroke-width="1" /><text x="206.8" y="166.8" font-size="7.5" text-anchor="middle" fill="#000" font-family="Liberation Serif" font-weight="bold" stroke="#000" stroke-width="0.23333333333333336" >300</text><rect x="34" y="19.4" width="183.7" height="136.8" fill="none" stroke="#000" stroke-width="1.4"/><text x="0" y="0" font-size="11.4" text-anchor="middle" fill="#000" stroke="#000" stroke-width="0.28" font-family="Liberation Serif" font-weight="bold" transform="translate(14.3,85.25) rotate(-90)" dominant-baseline="central">Relative height (a.u.)</text><text x="125.6" y="178.7" font-size="11" text-anchor="middle" fill="#000" font-family="Liberation Serif" font-weight="bold" stroke="#000" stroke-width="0.28" >Aging time (h)</text><path d="M44.7,42.2L71.7,46.5L98.7,48.6L125.8,56.1L152.8,61.8L179.8,61.8L206.8,66.1" fill="none" stroke="#6b2a6a" stroke-width="1.2"/><circle cx="44.7" cy="42.2" r="2.5" fill="#fff" stroke="#8a3c88" stroke-width="0.9"/><circle cx="71.72" cy="46.53" r="2.5" fill="#fff" stroke="#8a3c88" stroke-width="0.9"/><circle cx="98.73" cy="48.58" r="2.5" fill="#fff" stroke="#8a3c88" stroke-width="0.9"/><circle cx="125.75" cy="56.11" r="2.5" fill="#fff" stroke="#8a3c88" stroke-width="0.9"/><circle cx="152.77" cy="61.81" r="2.5" fill="#fff" stroke="#8a3c88" stroke-width="0.9"/><circle cx="179.78" cy="61.81" r="2.5" fill="#fff" stroke="#8a3c88" stroke-width="0.9"/><circle cx="206.8" cy="66.14" r="2.5" fill="#fff" stroke="#8a3c88" stroke-width="0.9"/><path d="M44.7,42.2L71.7,50.6L98.7,65L125.8,68L152.8,83.5L179.8,85.5L206.8,93" fill="none" stroke="#7b93ee" stroke-width="1.2"/><circle cx="44.7" cy="42.2" r="2.5" fill="#fff" stroke="#a9a4f2" stroke-width="0.9"/><circle cx="71.72" cy="50.64" r="2.5" fill="#fff" stroke="#a9a4f2" stroke-width="0.9"/><circle cx="98.73" cy="65" r="2.5" fill="#fff" stroke="#a9a4f2" stroke-width="0.9"/><circle cx="125.75" cy="67.96" r="2.5" fill="#fff" stroke="#a9a4f2" stroke-width="0.9"/><circle cx="152.77" cy="83.47" r="2.5" fill="#fff" stroke="#a9a4f2" stroke-width="0.9"/><circle cx="179.78" cy="85.52" r="2.5" fill="#fff" stroke="#a9a4f2" stroke-width="0.9"/><circle cx="206.8" cy="93.04" r="2.5" fill="#fff" stroke="#a9a4f2" stroke-width="0.9"/><text x="202.5" y="59.2" font-size="9.1" text-anchor="middle" fill="#000" font-family="Liberation Serif" font-weight="bold" stroke="#000" stroke-width="0.28" >89.7%</text><text x="202.5" y="84.2" font-size="9.1" text-anchor="middle" fill="#000" font-family="Liberation Serif" font-weight="bold" stroke="#000" stroke-width="0.28" >77.8%</text><line x1="41" y1="101" x2="64" y2="101" stroke="#6b2a6a" stroke-width="1.2" /><circle cx="52.5" cy="101" r="2.5" fill="#fff" stroke="#8a3c88" stroke-width="0.9"/><text x="66" y="105.1" font-size="9.9" text-anchor="start" fill="#000" font-family="Liberation Serif" font-weight="bold" stroke="#000" stroke-width="0.28" >LED-1</text><line x1="41" y1="113.5" x2="64" y2="113.5" stroke="#7b93ee" stroke-width="1.2" /><circle cx="52.5" cy="113.5" r="2.5" fill="#fff" stroke="#a9a4f2" stroke-width="0.9"/><text x="66" y="117.6" font-size="9.9" text-anchor="start" fill="#000" font-family="Liberation Serif" font-weight="bold" stroke="#000" stroke-width="0.28" >LED-2</text><text x="241.8" y="12.9" font-size="17.2" text-anchor="middle" fill="#000" font-family="Liberation Serif" font-weight="bold" stroke="#000" stroke-width="0.28" letter-spacing="0.5">(b)</text><path d="M256.9,156.2L265.8,155.7L267.9,155.4L269.1,154.7L271.4,152.2L272.8,150L274.7,145.5L276.4,140.6L277.8,135.4L279.1,129L280.8,117.8L283.2,96L284.3,84.4L285.8,63.8L286.7,54.7L287.2,52.7L287.6,54.5L288.4,62.2L290.2,101.3L291,113L291.6,118.1L292.8,122.9L295.2,128.7L296.9,135.2L298.7,141.2L300.1,144.3L301.4,146.9L302.8,148.8L304.5,150.5L308,153L311.1,154.4L314.3,155.2L320.1,155.8L353.9,156L363.5,155.8L375.2,154.4L377.4,153.9L380.3,152.8L382.6,151.5L383.9,139.2L384.9,147.1L386.1,115.4L386.4,112.2L386.7,115.4L387.9,147.1L388,147.7L390.3,147.8L391.1,147.6L392,147L393.5,145.5L395.8,142.5L395.9,140.6L397,48.1L397.1,40.7L397.3,40.1L397.9,80.4L398.1,80.6L398.2,82.7L398.7,96.9L399.1,81.2L399.3,80.5L399.4,82.3L400.6,136.6L401.1,146.8L401.7,151.4L402,151.8L403.7,152.5L405.3,152.7L405.5,152.4L406.2,148.8L407.2,137.9L407.5,136.2L407.8,137.4L409,150.5L409.6,152.6L410.9,153.7L411.6,154L414,154.5L419,155.1L438.9,156L438.9,156.2L256.9,156.2Z" fill="url(#gb)"/><path d="M256.9,59.6L261.4,48.8L263.2,45.4L265.1,42.7L267.8,39.5L271,36.6L273.7,34.7L276.5,33.6L278.3,33.3L279.7,33.4L281.5,34L282.9,34.7L285.1,36.6L292,43.7L294.3,45.4L296.1,46.3L297.4,46.6L299.3,46.6L305.2,45.2L307.5,44.9L309.8,45.3L311.6,46.1L313.9,47.8L315.7,50L318,53.6L320.3,58.1L324.4,68.5L333.9,96.3L336.7,102.7L339.4,107.7L341.2,110.3L343.1,112.5L344.9,114.2L347.2,115.8L349,116.7L351.3,117.5L353.6,117.8L356.3,117.7L358.6,117.3L360.9,116.5L363.1,115.4L365.4,113.8L367.7,111.9L370.4,109.1L373.2,105.8L375.4,102.7L377.7,99.1L380,94.7L382.3,89.3L389.1,71.5L391.4,66.8L393.7,63.4L395.5,61.7L396.9,61.2L397.8,61.2L398.7,61.4L401.4,62.9L402.4,62.9L403.3,62.4L404.2,61.1L405.1,58.9L407.8,50.1L409.2,46.4L410.1,44.5L411.5,42.3L413.3,40.6L415.1,39.7L417.9,39.5L420.1,39.6L421.1,39.9L422.4,40.9L423.8,43.2L425.2,47.2L426.5,53.1L428.8,67.3L432.5,96.2L434.3,109L436.6,121.6L438.9,131" fill="none" stroke="#111" stroke-width="1.1"/><line x1="256.85" y1="156.2" x2="256.85" y2="158.7" stroke="#000" stroke-width="1" /><text x="256.85" y="166.4" font-size="7.5" text-anchor="middle" fill="#000" font-family="Liberation Serif" font-weight="bold" stroke="#000" stroke-width="0.23333333333333336" >400</text><line x1="272.02" y1="156.2" x2="272.02" y2="157.7" stroke="#000" stroke-width="1" /><line x1="287.18" y1="156.2" x2="287.18" y2="158.7" stroke="#000" stroke-width="1" /><text x="287.18" y="166.4" font-size="7.5" text-anchor="middle" fill="#000" font-family="Liberation Serif" font-weight="bold" stroke="#000" stroke-width="0.23333333333333336" >450</text><line x1="302.35" y1="156.2" x2="302.35" y2="157.7" stroke="#000" stroke-width="1" /><line x1="317.52" y1="156.2" x2="317.52" y2="158.7" stroke="#000" stroke-width="1" /><text x="317.52" y="166.4" font-size="7.5" text-anchor="middle" fill="#000" font-family="Liberation Serif" font-weight="bold" stroke="#000" stroke-width="0.23333333333333336" >500</text><line x1="332.68" y1="156.2" x2="332.68" y2="157.7" stroke="#000" stroke-width="1" /><line x1="347.85" y1="156.2" x2="347.85" y2="158.7" stroke="#000" stroke-width="1" /><text x="347.85" y="166.4" font-size="7.5" text-anchor="middle" fill="#000" font-family="Liberation Serif" font-weight="bold" stroke="#000" stroke-width="0.23333333333333336" >550</text><line x1="363.02" y1="156.2" x2="363.02" y2="157.7" stroke="#000" stroke-width="1" /><line x1="378.18" y1="156.2" x2="378.18" y2="158.7" stroke="#000" stroke-width="1" /><text x="378.18" y="166.4" font-size="7.5" text-anchor="middle" fill="#000" font-family="Liberation Serif" font-weight="bold" stroke="#000" stroke-width="0.23333333333333336" >600</text><line x1="393.35" y1="156.2" x2="393.35" y2="157.7" stroke="#000" stroke-width="1" /><line x1="408.52" y1="156.2" x2="408.52" y2="158.7" stroke="#000" stroke-width="1" /><text x="408.52" y="166.4" font-size="7.5" text-anchor="middle" fill="#000" font-family="Liberation Serif" font-weight="bold" stroke="#000" stroke-width="0.23333333333333336" >650</text><line x1="423.68" y1="156.2" x2="423.68" y2="157.7" stroke="#000" stroke-width="1" /><line x1="438.85" y1="156.2" x2="438.85" y2="158.7" stroke="#000" stroke-width="1" /><text x="438.85" y="166.4" font-size="7.5" text-anchor="middle" fill="#000" font-family="Liberation Serif" font-weight="bold" stroke="#000" stroke-width="0.23333333333333336" >700</text><rect x="256.85" y="20.25" width="182" height="135.95" fill="none" stroke="#000" stroke-width="1.4"/><text x="0" y="0" font-size="11.0" text-anchor="middle" fill="#000" stroke="#000" stroke-width="0.28" font-family="Liberation Serif" font-weight="bold" transform="translate(249.2,88.15) rotate(-90)" dominant-baseline="central">Relative Intensity (a.u.)</text><text x="348.3" y="178.7" font-size="11" text-anchor="middle" fill="#000" font-family="Liberation Serif" font-weight="bold" stroke="#000" stroke-width="0.28" >Wavelength (nm)</text><line x1="307.8" y1="28.7" x2="325.5" y2="28.7" stroke="#000" stroke-width="1.2" /><text x="327.5" y="31.3" font-size="7.95" text-anchor="start" fill="#000" font-family="Liberation Serif" font-weight="bold" stroke="#000" stroke-width="0.24733333333333335" >Photosynthesis Action Spectrum</text><rect x="328.5" y="37.7" width="27.3" height="25.2" fill="#7b8a96"/><path d="M328.5,37.7 h27.3 v4 l-6,5 h-15 l-6,-5z" fill="#4a4e52"/><rect x="335.2" y="37.7" width="13.9" height="7.9" fill="#9c8b62"/><rect x="335.2" y="56.5" width="13.9" height="6.4" fill="#9a8a64"/><rect x="336.4" y="45.4" width="11" height="11" fill="#e8ecee" stroke="#333" stroke-width="0.6"/><circle cx="342" cy="51" r="4.3" fill="#d6cf34"/><rect x="355.8" y="37.7" width="27.6" height="25.2" fill="#e070e0"/><circle cx="369.2" cy="51" r="12" fill="url(#pinkglow)"/><text x="466.9" y="14.2" font-size="17.2" text-anchor="middle" fill="#000" font-family="Liberation Serif" font-weight="bold" stroke="#000" stroke-width="0.28" letter-spacing="0.5">(c)</text><path d="M479.1,157.8L488.7,157.2L493.5,156.3L494.9,155.8L496.3,154.9L497.7,153.6L498.7,152.2L499.5,149.8L500.3,146.5L502.8,133.1L508,97.9L509.2,92.7L509.9,91.3L510.2,91.4L510.5,92.5L511.3,97.7L512.9,120L513.7,127.3L514.6,129.9L517.9,135.5L521.4,143.6L522.3,144.9L523.6,144.9L525.3,144.4L526.3,143.7L527.6,142.4L528.5,140.9L531.9,133.6L533.2,131.3L535.1,128.2L537.1,126L538.8,124.5L540.3,123.6L543.2,122.3L545.4,121.8L551.1,121.3L555,121.4L565.6,123.6L570.4,125L573.1,126.6L579.3,131.3L580.6,132.8L582.1,136.4L582.5,136.8L582.7,136.4L582.9,134.8L583.7,123.2L584,124.5L584.5,133.9L584.8,135.3L585,134.4L585.3,128.7L586,106.7L586.4,102.7L587.4,130.6L587.8,136.2L588.2,137.1L588.8,137.3L589.9,137L592.3,135.7L592.7,134.8L592.9,132.6L593.2,122.5L594,51L594.4,38.1L595.3,102.8L595.4,104.5L595.5,103.4L596.1,80.9L596.3,78.2L597.5,134.4L597.8,141.7L598,143.8L598.5,145.3L600.2,147.4L600.6,147.4L600.8,146.8L601.1,144.3L602.1,132.1L602.4,134.9L603.1,146.3L603.5,149.1L604.2,150L608.8,152.2L613.9,154L618.4,155.3L622.5,156L629.8,156.8L642.6,157.7L662.5,157.8L662.5,157.8L479.1,157.8Z" fill="url(#gc)"/><line x1="479.1" y1="157.75" x2="479.1" y2="160.25" stroke="#000" stroke-width="1" /><text x="479.1" y="167.7" font-size="7.5" text-anchor="middle" fill="#000" font-family="Liberation Serif" font-weight="bold" stroke="#000" stroke-width="0.23333333333333336" >380</text><line x1="502.02" y1="157.75" x2="502.02" y2="159.25" stroke="#000" stroke-width="1" /><line x1="524.94" y1="157.75" x2="524.94" y2="160.25" stroke="#000" stroke-width="1" /><text x="524.94" y="167.7" font-size="7.5" text-anchor="middle" fill="#000" font-family="Liberation Serif" font-weight="bold" stroke="#000" stroke-width="0.23333333333333336" >480</text><line x1="547.86" y1="157.75" x2="547.86" y2="159.25" stroke="#000" stroke-width="1" /><line x1="570.78" y1="157.75" x2="570.78" y2="160.25" stroke="#000" stroke-width="1" /><text x="570.78" y="167.7" font-size="7.5" text-anchor="middle" fill="#000" font-family="Liberation Serif" font-weight="bold" stroke="#000" stroke-width="0.23333333333333336" >580</text><line x1="593.69" y1="157.75" x2="593.69" y2="159.25" stroke="#000" stroke-width="1" /><line x1="616.61" y1="157.75" x2="616.61" y2="160.25" stroke="#000" stroke-width="1" /><text x="616.61" y="167.7" font-size="7.5" text-anchor="middle" fill="#000" font-family="Liberation Serif" font-weight="bold" stroke="#000" stroke-width="0.23333333333333336" >680</text><line x1="639.53" y1="157.75" x2="639.53" y2="159.25" stroke="#000" stroke-width="1" /><line x1="662.45" y1="157.75" x2="662.45" y2="160.25" stroke="#000" stroke-width="1" /><text x="662.45" y="167.7" font-size="7.5" text-anchor="middle" fill="#000" font-family="Liberation Serif" font-weight="bold" stroke="#000" stroke-width="0.23333333333333336" >780</text><rect x="479.1" y="20.9" width="183.35" height="136.85" fill="none" stroke="#000" stroke-width="1.4"/><text x="0" y="0" font-size="11.5" text-anchor="middle" fill="#000" stroke="#000" stroke-width="0.28" font-family="Liberation Serif" font-weight="bold" transform="translate(468.3,89.15) rotate(-90)" dominant-baseline="central">Intensity (a.u.)</text><text x="567" y="178.9" font-size="11.15" text-anchor="middle" fill="#000" font-family="Liberation Serif" font-weight="bold" stroke="#000" stroke-width="0.28" >Wavelength (nm)</text><text x="481" y="32.6" font-size="8.4" text-anchor="start" fill="#000" font-family="Liberation Serif" font-weight="bold" stroke="#000" stroke-width="0.26133333333333336" >WLED-3</text><text x="510" y="56" font-size="9.8" text-anchor="start" fill="#000" font-family="Liberation Serif" font-weight="bold" stroke="#000" stroke-width="0.28" >CCT = 5347 K</text><text x="510" y="68.1" font-size="9.8" text-anchor="start" fill="#000" font-family="Liberation Serif" font-weight="bold" stroke="#000" stroke-width="0.28" >CRI = 93.09</text><text x="510" y="80" font-size="9.8" text-anchor="start" fill="#000" font-family="Liberation Serif" font-weight="bold" stroke="#000" stroke-width="0.28" >LE = 149.48 lm/W</text><rect x="605.1" y="37.5" width="24.1" height="25.2" fill="#6d8aa2"/><path d="M608,47 L628,47 L624,58 L612,58Z" fill="#4f6272"/><path d="M607,41 Q607,37.5 612,37.5 L624,37.5 Q628.7,37.5 628.7,41 Q628.7,46.5 622.5,47.5 L622.5,62.7 L613.5,62.7 L613.5,47.5 Q607,46.5 607,41Z" fill="#b4a474"/><ellipse cx="618" cy="41" rx="3.4" ry="3" fill="#1c1c20"/><rect x="614.8" y="49.8" width="6.5" height="6" fill="#e8ecdc"/><rect x="615.6" y="50.6" width="4.9" height="4.4" fill="#d4cc2c"/><rect x="629.2" y="37.5" width="25.5" height="25.2" fill="#7898ac"/><ellipse cx="641" cy="49.5" rx="13.5" ry="13" fill="url(#whiteglow)"/><circle cx="641.5" cy="60" r="1" fill="#f0faff"/><text x="13.1" y="208.7" font-size="17.6" text-anchor="middle" fill="#000" font-family="Liberation Serif" font-weight="bold" stroke="#000" stroke-width="0.28" letter-spacing="0.5">(d)</text><path d="M31.6,359.2L46.6,358.9L49.5,358.7L52,358.2L53.6,357.1L56.2,354.6L61.6,348L62.9,347L63.6,346.7L64.2,346.9L65,347.9L66.7,352.1L67.5,353.5L76.4,356.8L79.5,356.7L81.9,356.3L87.8,354.2L91.8,353.2L95.9,352.7L101,352.4L110.5,352.4L126.4,353.1L135.6,354.3L137,354.6L139,355.4L139.4,354.9L140,353L140.8,355.1L141.2,355.4L141.6,355.1L141.8,354.5L142.5,350L142.8,349.5L143.5,353.9L144,355.2L145.6,355.4L149.4,355.1L149.9,354.6L150.1,353.3L150.8,340.7L151.2,340.7L151.8,352L152,353.8L152.3,353.2L152.9,346.4L153.1,345.5L154,355.3L154.4,356.4L155.2,356.8L158,357.3L158.3,356.8L159,354.7L159.9,357.1L160.2,357.6L166.9,358.2L176.5,358.8L189,359L221.6,359.2" fill="none" stroke="#404040" stroke-width="1.1"/><path d="M31.6,359.2L41.6,359L46.6,358.7L49.5,358.2L52,357.2L53.6,355.1L56.2,350.2L61.6,337.3L62.9,335.4L63.6,334.9L64.2,335.4L65,337.3L66.7,345.4L67.5,348.1L68.5,349L71.9,351.1L75.5,354L76.4,354.5L79.5,354.3L81.9,353.6L87.8,349.5L89.8,348.4L91.8,347.6L95.9,346.6L101,346L110.5,345.9L121.4,346.7L126.4,347.3L135.6,349.6L137,350.2L139,351.7L139.2,351.6L139.4,350.8L140,347.1L140.8,351.1L141,351.7L141.2,351.8L141.6,351.3L141.8,350.1L142.5,341.3L142.8,340.4L143.5,348.8L144,351.5L144.3,351.7L145.6,351.7L149.4,351.1L149.7,351L149.9,350.3L150.1,347.8L150.8,323.1L151.2,323.1L151.8,345.1L152,348.7L152.3,347.6L152.9,334.4L153.1,332.5L154,351.6L154.4,353.8L154.6,354.2L155.2,354.6L157.3,355.5L158,355.5L158.3,354.5L159,350.4L159.9,355.2L160.2,356L161.1,356.3L166.9,357.3L176.5,358.3L189,358.9L201.2,359.2L221.6,359.2" fill="none" stroke="#ff3535" stroke-width="1.1"/><path d="M31.6,359.2L41.6,358.9L46.6,358.4L49.5,357.7L52,356.2L52.8,355L53.6,353.2L56.2,346.2L61.6,327.6L62.9,324.9L63.6,324.1L63.8,324.2L64.2,324.8L65,327.5L66.7,339.3L67.5,343.1L68.5,344.5L71.9,347.5L75.5,351.7L76.4,352.4L79.5,352.2L81.9,351.1L87.8,345.1L89.8,343.5L91.8,342.4L93.9,341.5L95.9,341L98.6,340.4L101,340.2L106.6,339.9L110.5,340L121.4,341.2L126.4,342L129.2,342.8L135.6,345.3L137,346.2L139,348.4L139.2,348.2L139.4,347.1L140,341.7L140.8,347.6L141,348.4L141.2,348.5L141.6,347.8L141.8,346.1L142.5,333.3L142.8,332L143.5,344.2L144,348L144.3,348.4L145.6,348.4L149.4,347.6L149.7,347.4L149.9,346.3L150.1,342.7L150.8,307.1L151.2,307.1L151.8,338.9L152,344L152.3,342.4L152.9,323.3L153.1,320.6L154,348.2L154.4,351.4L154.6,352L155.2,352.6L157.3,353.8L157.7,354L158,353.8L158.3,352.4L159,346.6L159.9,353.4L160.2,354.6L161.1,355L166.9,356.5L176.5,357.9L189,358.8L201.2,359.2L221.6,359.2" fill="none" stroke="#2a70e0" stroke-width="1.1"/><path d="M31.6,359.2L41.6,358.8L46.6,358.2L49.5,357.2L50.9,356.3L52,355.3L52.8,353.7L53.6,351.3L56.2,341.9L61.6,317.3L62.9,313.6L63.6,312.6L63.8,312.7L64.2,313.5L65,317.2L66.7,332.7L67.5,337.9L68.5,339.7L71.9,343.6L75.5,349.3L76.4,350.2L77.7,350.2L79.5,349.9L81.9,348.5L87.8,340.5L89.8,338.4L91.8,336.9L93.9,335.8L95.9,335L98.6,334.3L101,333.9L106.6,333.6L110.5,333.8L121.4,335.3L126.4,336.3L129.2,337.5L135.6,340.8L137,341.9L138.5,344.4L139,344.9L139.2,344.6L139.4,343.1L140,336L140.8,343.8L141,344.8L141.2,345L141.6,344.1L141.8,341.8L142.5,324.8L142.8,323.1L143.5,339.3L144,344.4L144.3,344.9L145.6,344.8L149.4,343.7L149.7,343.5L149.9,342.1L150.1,337.3L150.8,290L151.2,290L151.8,332.2L152,339.1L152.3,336.9L152.9,311.6L153.1,308L154,344.6L154.4,348.8L154.6,349.6L155.2,350.4L157.3,352.1L157.7,352.2L158,352L158.3,350.2L159,342.4L159.9,351.5L160.2,353.1L161.1,353.7L166.9,355.6L172.1,356.8L176.5,357.5L189,358.6L201.2,359.2L221.6,359.2" fill="none" stroke="#22a060" stroke-width="1.1"/><path d="M31.6,359.2L41.6,358.7L46.6,358L48,357.5L49.5,356.8L50.9,355.6L52,354.4L52.8,352.4L53.6,349.5L56.2,338L61.6,307.9L62.9,303.4L63.6,302.2L63.8,302.3L64.2,303.2L65,307.7L66.7,326.8L67.5,333.1L68.5,335.3L71.9,340.1L75.5,347.1L76.4,348.2L77.7,348.2L79.5,347.8L80.6,347.2L81.9,346.1L82.7,344.9L86.4,338.5L87.8,336.3L89.8,333.8L91.8,331.9L93.9,330.5L95.9,329.6L98.6,328.7L101,328.3L106.6,327.9L110.5,328.1L121.4,329.9L126.4,331.2L129.2,332.6L133.9,335.4L135.6,336.7L137,338L138.5,341.1L139,341.7L139.2,341.3L139.4,339.5L140,330.8L140.8,340.3L141,341.6L141.2,341.8L141.6,340.7L141.8,337.9L142.5,317.1L142.8,315L143.5,334.8L144,341L144.3,341.7L145.6,341.6L149.4,340.3L149.7,339.9L149.9,338.3L150.1,332.4L150.8,274.5L151.2,274.5L151.8,326.2L152,334.6L152.3,331.9L152.9,300.9L153.1,296.5L154,341.3L154.4,346.5L154.6,347.5L155.2,348.4L157.3,350.4L157.7,350.7L158,350.4L158.3,348.2L159,338.7L159.9,349.7L160.2,351.8L160.5,352.1L161.1,352.4L166.9,354.7L172.1,356.2L176.5,357.2L189,358.5L201.2,359.2L221.6,359.2" fill="none" stroke="#a874f0" stroke-width="1.1"/><path d="M31.6,359.2L41.6,358.6L46.6,357.7L48,357.2L49.5,356.3L50.9,355L52,353.5L52.8,351.2L53.6,347.8L56.2,334.2L61.6,298.4L62.9,293.1L63.6,291.7L63.8,291.8L64.2,293L65,298.3L66.7,320.8L67.5,328.3L68.5,330.9L71.9,336.6L75.5,344.8L76.4,346.2L77.7,346.2L79.5,345.7L80.6,345L81.9,343.6L82.7,342.3L86.4,334.7L87.8,332.1L89.8,329.1L91.8,326.9L93.9,325.2L95.9,324.1L98.6,323.1L101,322.6L106.6,322.2L110.5,322.4L121.4,324.6L126.4,326.1L129.2,327.7L133.9,331L135.6,332.5L137,334.1L138.5,337.8L139,338.5L139.2,338.1L139.4,335.9L140,325.6L140.8,336.8L141,338.4L141.2,338.6L141.6,337.3L141.8,334L142.5,309.4L142.8,306.9L143.5,330.3L144,337.7L144.3,338.5L145.6,338.4L149.4,336.8L149.7,336.4L149.9,334.5L150.1,327.5L150.8,258.9L151.2,258.9L151.8,320.1L152,330L152.3,326.9L152.9,290.2L153.1,285L154,338.1L154.4,344.1L154.6,345.3L155.2,346.4L157.3,348.8L157.7,349.1L158,348.8L158.3,346.2L159,334.9L159.9,348L160.2,350.4L160.5,350.8L161.1,351.2L166.9,353.9L172.1,355.7L176.5,356.8L180.8,357.5L189,358.3L201.2,359.2L221.6,359.2" fill="none" stroke="#d4a010" stroke-width="1.1"/><line x1="31.65" y1="359.2" x2="31.65" y2="361.7" stroke="#000" stroke-width="1" /><text x="31.65" y="369.6" font-size="7.5" text-anchor="middle" fill="#000" font-family="Liberation Serif" font-weight="bold" stroke="#000" stroke-width="0.23333333333333336" >380</text><line x1="55.39" y1="359.2" x2="55.39" y2="360.7" stroke="#000" stroke-width="1" /><line x1="79.14" y1="359.2" x2="79.14" y2="361.7" stroke="#000" stroke-width="1" /><text x="79.14" y="369.6" font-size="7.5" text-anchor="middle" fill="#000" font-family="Liberation Serif" font-weight="bold" stroke="#000" stroke-width="0.23333333333333336" >480</text><line x1="102.88" y1="359.2" x2="102.88" y2="360.7" stroke="#000" stroke-width="1" /><line x1="126.62" y1="359.2" x2="126.62" y2="361.7" stroke="#000" stroke-width="1" /><text x="126.62" y="369.6" font-size="7.5" text-anchor="middle" fill="#000" font-family="Liberation Serif" font-weight="bold" stroke="#000" stroke-width="0.23333333333333336" >580</text><line x1="150.37" y1="359.2" x2="150.37" y2="360.7" stroke="#000" stroke-width="1" /><line x1="174.11" y1="359.2" x2="174.11" y2="361.7" stroke="#000" stroke-width="1" /><text x="174.11" y="369.6" font-size="7.5" text-anchor="middle" fill="#000" font-family="Liberation Serif" font-weight="bold" stroke="#000" stroke-width="0.23333333333333336" >680</text><line x1="197.86" y1="359.2" x2="197.86" y2="360.7" stroke="#000" stroke-width="1" /><line x1="221.6" y1="359.2" x2="221.6" y2="361.7" stroke="#000" stroke-width="1" /><text x="221.6" y="369.6" font-size="7.5" text-anchor="middle" fill="#000" font-family="Liberation Serif" font-weight="bold" stroke="#000" stroke-width="0.23333333333333336" >780</text><rect x="31.65" y="217.85" width="189.95" height="141.35" fill="none" stroke="#000" stroke-width="1.4"/><text x="0" y="0" font-size="11.5" text-anchor="middle" fill="#000" stroke="#000" stroke-width="0.28" font-family="Liberation Serif" font-weight="bold" transform="translate(22.6,288) rotate(-90)" dominant-baseline="central">Intensity (a.u.)</text><text x="126.7" y="381" font-size="11.8" text-anchor="middle" fill="#000" font-family="Liberation Serif" font-weight="bold" stroke="#000" stroke-width="0.28" >Wavelength (nm)</text><text x="36" y="231.1" font-size="8.2" text-anchor="start" fill="#000" font-family="Liberation Serif" font-weight="bold" stroke="#000" stroke-width="0.2551111111111111" >WLED-3</text><line x1="165.4" y1="226.7" x2="182.7" y2="226.7" stroke="#404040" stroke-width="1.1" /><text x="185" y="230" font-size="9.6" text-anchor="start" fill="#000" font-family="Liberation Serif" font-weight="bold" stroke="#000" stroke-width="0.28" >30 mA</text><line x1="165.4" y1="238.7" x2="182.7" y2="238.7" stroke="#ff3535" stroke-width="1.1" /><text x="185" y="242" font-size="9.6" text-anchor="start" fill="#000" font-family="Liberation Serif" font-weight="bold" stroke="#000" stroke-width="0.28" >60 mA</text><line x1="165.4" y1="250.7" x2="182.7" y2="250.7" stroke="#2a70e0" stroke-width="1.1" /><text x="185" y="254" font-size="9.6" text-anchor="start" fill="#000" font-family="Liberation Serif" font-weight="bold" stroke="#000" stroke-width="0.28" >90 mA</text><line x1="165.4" y1="262.7" x2="182.7" y2="262.7" stroke="#22a060" stroke-width="1.1" /><text x="185" y="266" font-size="9.6" text-anchor="start" fill="#000" font-family="Liberation Serif" font-weight="bold" stroke="#000" stroke-width="0.28" >120 mA</text><line x1="165.4" y1="274.7" x2="182.7" y2="274.7" stroke="#a874f0" stroke-width="1.1" /><text x="185" y="278" font-size="9.6" text-anchor="start" fill="#000" font-family="Liberation Serif" font-weight="bold" stroke="#000" stroke-width="0.28" >150 mA</text><line x1="165.4" y1="286.7" x2="182.7" y2="286.7" stroke="#d4a010" stroke-width="1.1" /><text x="185" y="290" font-size="9.6" text-anchor="start" fill="#000" font-family="Liberation Serif" font-weight="bold" stroke="#000" stroke-width="0.28" >180 mA</text><text x="246.1" y="207.1" font-size="17.2" text-anchor="middle" fill="#000" font-family="Liberation Serif" font-weight="bold" stroke="#000" stroke-width="0.28" letter-spacing="0.5">(e)</text><path d="M271.8,219V366.4M280,219V366.4M288.2,219V366.4M296.4,219V366.4M304.6,219V366.4M312.8,219V366.4M321,219V366.4M329.2,219V366.4M337.4,219V366.4M345.6,219V366.4M353.8,219V366.4M362,219V366.4M370.2,219V366.4M378.4,219V366.4M386.6,219V366.4M394.8,219V366.4M403,219V366.4M271.8,366.4H403M271.8,358.2H403M271.8,350H403M271.8,341.8H403M271.8,333.6H403M271.8,325.4H403M271.8,317.3H403M271.8,309.1H403M271.8,300.9H403M271.8,292.7H403M271.8,284.5H403M271.8,276.3H403M271.8,268.1H403M271.8,259.9H403M271.8,251.7H403M271.8,243.5H403M271.8,235.4H403M271.8,227.2H403M271.8,219H403" stroke="#cfcfcf" stroke-width="0.7" fill="none"/><line x1="288.16" y1="218.98" x2="403.03" y2="333.64" stroke="#9a9a9a" stroke-width="0.7" /><line x1="271.75" y1="218.98" x2="271.75" y2="366.4" stroke="#999" stroke-width="1.2" /><line x1="271.75" y1="366.4" x2="403.03" y2="366.4" stroke="#888" stroke-width="1.2" /><line x1="269.75" y1="366.4" x2="271.75" y2="366.4" stroke="#555" stroke-width="0.8" /><text x="266.55" y="368.3" font-size="5.6" text-anchor="middle" fill="#333" font-family="Liberation Serif" font-weight="bold" stroke="#333" stroke-width="0.17422222222222225" >0.0</text><line x1="269.75" y1="350.02" x2="271.75" y2="350.02" stroke="#555" stroke-width="0.8" /><text x="266.55" y="351.92" font-size="5.6" text-anchor="middle" fill="#333" font-family="Liberation Serif" font-weight="bold" stroke="#333" stroke-width="0.17422222222222225" >0.1</text><line x1="269.75" y1="333.64" x2="271.75" y2="333.64" stroke="#555" stroke-width="0.8" /><text x="266.55" y="335.54" font-size="5.6" text-anchor="middle" fill="#333" font-family="Liberation Serif" font-weight="bold" stroke="#333" stroke-width="0.17422222222222225" >0.2</text><line x1="269.75" y1="317.26" x2="271.75" y2="317.26" stroke="#555" stroke-width="0.8" /><text x="266.55" y="319.16" font-size="5.6" text-anchor="middle" fill="#333" font-family="Liberation Serif" font-weight="bold" stroke="#333" stroke-width="0.17422222222222225" >0.3</text><line x1="269.75" y1="300.88" x2="271.75" y2="300.88" stroke="#555" stroke-width="0.8" /><text x="266.55" y="302.78" font-size="5.6" text-anchor="middle" fill="#333" font-family="Liberation Serif" font-weight="bold" stroke="#333" stroke-width="0.17422222222222225" >0.4</text><line x1="269.75" y1="284.5" x2="271.75" y2="284.5" stroke="#555" stroke-width="0.8" /><text x="266.55" y="286.4" font-size="5.6" text-anchor="middle" fill="#333" font-family="Liberation Serif" font-weight="bold" stroke="#333" stroke-width="0.17422222222222225" >0.5</text><line x1="269.75" y1="268.12" x2="271.75" y2="268.12" stroke="#555" stroke-width="0.8" /><text x="266.55" y="270.02" font-size="5.6" text-anchor="middle" fill="#333" font-family="Liberation Serif" font-weight="bold" stroke="#333" stroke-width="0.17422222222222225" >0.6</text><line x1="269.75" y1="251.74" x2="271.75" y2="251.74" stroke="#555" stroke-width="0.8" /><text x="266.55" y="253.64" font-size="5.6" text-anchor="middle" fill="#333" font-family="Liberation Serif" font-weight="bold" stroke="#333" stroke-width="0.17422222222222225" >0.7</text><line x1="269.75" y1="235.36" x2="271.75" y2="235.36" stroke="#555" stroke-width="0.8" /><text x="266.55" y="237.26" font-size="5.6" text-anchor="middle" fill="#333" font-family="Liberation Serif" font-weight="bold" stroke="#333" stroke-width="0.17422222222222225" >0.8</text><line x1="269.75" y1="218.98" x2="271.75" y2="218.98" stroke="#555" stroke-width="0.8" /><text x="266.55" y="220.88" font-size="5.6" text-anchor="middle" fill="#333" font-family="Liberation Serif" font-weight="bold" stroke="#333" stroke-width="0.17422222222222225" >0.9</text><line x1="271.75" y1="366.4" x2="271.75" y2="368.4" stroke="#555" stroke-width="0.8" /><text x="271.75" y="373.2" font-size="5.6" text-anchor="middle" fill="#333" font-family="Liberation Serif" font-weight="bold" stroke="#333" stroke-width="0.17422222222222225" >0.0</text><line x1="288.16" y1="366.4" x2="288.16" y2="368.4" stroke="#555" stroke-width="0.8" /><text x="288.16" y="373.2" font-size="5.6" text-anchor="middle" fill="#333" font-family="Liberation Serif" font-weight="bold" stroke="#333" stroke-width="0.17422222222222225" >0.1</text><line x1="304.57" y1="366.4" x2="304.57" y2="368.4" stroke="#555" stroke-width="0.8" /><text x="304.57" y="373.2" font-size="5.6" text-anchor="middle" fill="#333" font-family="Liberation Serif" font-weight="bold" stroke="#333" stroke-width="0.17422222222222225" >0.2</text><line x1="320.98" y1="366.4" x2="320.98" y2="368.4" stroke="#555" stroke-width="0.8" /><text x="320.98" y="373.2" font-size="5.6" text-anchor="middle" fill="#333" font-family="Liberation Serif" font-weight="bold" stroke="#333" stroke-width="0.17422222222222225" >0.3</text><line x1="337.39" y1="366.4" x2="337.39" y2="368.4" stroke="#555" stroke-width="0.8" /><text x="337.39" y="373.2" font-size="5.6" text-anchor="middle" fill="#333" font-family="Liberation Serif" font-weight="bold" stroke="#333" stroke-width="0.17422222222222225" >0.4</text><line x1="353.8" y1="366.4" x2="353.8" y2="368.4" stroke="#555" stroke-width="0.8" /><text x="353.8" y="373.2" font-size="5.6" text-anchor="middle" fill="#333" font-family="Liberation Serif" font-weight="bold" stroke="#333" stroke-width="0.17422222222222225" >0.5</text><line x1="370.21" y1="366.4" x2="370.21" y2="368.4" stroke="#555" stroke-width="0.8" /><text x="370.21" y="373.2" font-size="5.6" text-anchor="middle" fill="#333" font-family="Liberation Serif" font-weight="bold" stroke="#333" stroke-width="0.17422222222222225" >0.6</text><line x1="386.62" y1="366.4" x2="386.62" y2="368.4" stroke="#555" stroke-width="0.8" /><text x="386.62" y="373.2" font-size="5.6" text-anchor="middle" fill="#333" font-family="Liberation Serif" font-weight="bold" stroke="#333" stroke-width="0.17422222222222225" >0.7</text><line x1="403.03" y1="366.4" x2="403.03" y2="368.4" stroke="#555" stroke-width="0.8" /><text x="403.03" y="373.2" font-size="5.6" text-anchor="middle" fill="#333" font-family="Liberation Serif" font-weight="bold" stroke="#333" stroke-width="0.17422222222222225" >0.8</text><text x="338.5" y="378.5" font-size="6.5" text-anchor="middle" fill="#333" font-family="Liberation Serif" font-weight="normal" stroke="#333" stroke-width="0.20222222222222225" >x</text><text x="262.5" y="294" font-size="6.5" text-anchor="middle" fill="#333" font-family="Liberation Serif" font-weight="normal" stroke="#333" stroke-width="0.20222222222222225" >y</text><g clip-path="url(#gam)"><rect x="279.2" y="228.8" width="12" height="2.3" fill="url(#r0)"/><rect x="276.8" y="230.8" width="19.5" height="2.3" fill="url(#r1)"/><rect x="275.2" y="232.8" width="24.5" height="2.3" fill="url(#r2)"/><rect x="274.2" y="234.8" width="28.5" height="2.3" fill="url(#r3)"/><rect x="273.8" y="236.8" width="32" height="2.3" fill="url(#r4)"/><rect x="272.8" y="238.8" width="36" height="2.3" fill="url(#r5)"/><rect x="272.2" y="240.8" width="39" height="2.3" fill="url(#r6)"/><rect x="272.2" y="242.8" width="41.5" height="2.3" fill="url(#r7)"/><rect x="271.8" y="244.8" width="44.5" height="2.3" fill="url(#r8)"/><rect x="271.2" y="246.8" width="47" height="2.3" fill="url(#r9)"/><rect x="271.2" y="248.8" width="49.5" height="2.3" fill="url(#r10)"/><rect x="270.8" y="250.8" width="52" height="2.3" fill="url(#r11)"/><rect x="270.8" y="252.8" width="54" height="2.3" fill="url(#r12)"/><rect x="270.8" y="254.8" width="56.5" height="2.3" fill="url(#r13)"/><rect x="270.8" y="256.8" width="58.5" height="2.3" fill="url(#r14)"/><rect x="270.8" y="258.8" width="60.5" height="2.3" fill="url(#r15)"/><rect x="270.8" y="260.8" width="62.5" height="2.3" fill="url(#r16)"/><rect x="270.8" y="262.8" width="64.5" height="2.3" fill="url(#r17)"/><rect x="270.8" y="264.8" width="66.5" height="2.3" fill="url(#r18)"/><rect x="270.8" y="266.8" width="69" height="2.3" fill="url(#r19)"/><rect x="270.8" y="268.8" width="71" height="2.3" fill="url(#r20)"/><rect x="270.8" y="270.8" width="73" height="2.3" fill="url(#r21)"/><rect x="271.2" y="272.8" width="74.5" height="2.3" fill="url(#r22)"/><rect x="271.2" y="274.8" width="76.5" height="2.3" fill="url(#r23)"/><rect x="271.2" y="276.8" width="78.5" height="2.3" fill="url(#r24)"/><rect x="271.2" y="278.8" width="80.5" height="2.3" fill="url(#r25)"/><rect x="271.8" y="280.8" width="82" height="2.3" fill="url(#r26)"/><rect x="271.8" y="282.8" width="84" height="2.3" fill="url(#r27)"/><rect x="271.8" y="284.8" width="86" height="2.3" fill="url(#r28)"/><rect x="272.2" y="286.8" width="87.5" height="2.3" fill="url(#r29)"/><rect x="272.2" y="288.8" width="89.5" height="2.3" fill="url(#r30)"/><rect x="272.8" y="290.8" width="91" height="2.3" fill="url(#r31)"/><rect x="272.8" y="292.8" width="93" height="2.3" fill="url(#r32)"/><rect x="273.2" y="294.8" width="94.5" height="2.3" fill="url(#r33)"/><rect x="273.8" y="296.8" width="96" height="2.3" fill="url(#r34)"/><rect x="273.8" y="298.8" width="98" height="2.3" fill="url(#r35)"/><rect x="274.2" y="300.8" width="99.5" height="2.3" fill="url(#r36)"/><rect x="274.2" y="302.8" width="101.5" height="2.3" fill="url(#r37)"/><rect x="274.8" y="304.8" width="103" height="2.3" fill="url(#r38)"/><rect x="275.2" y="306.8" width="104.5" height="2.3" fill="url(#r39)"/><rect x="275.8" y="308.8" width="106" height="2.3" fill="url(#r40)"/><rect x="275.8" y="310.8" width="108" height="2.3" fill="url(#r41)"/><rect x="276.2" y="312.8" width="109.5" height="2.3" fill="url(#r42)"/><rect x="276.8" y="314.8" width="111" height="2.3" fill="url(#r43)"/><rect x="277.2" y="316.8" width="112.5" height="2.3" fill="url(#r44)"/><rect x="277.8" y="318.8" width="114" height="2.3" fill="url(#r45)"/><rect x="278.2" y="320.8" width="115.5" height="2.3" fill="url(#r46)"/><rect x="278.8" y="322.8" width="115" height="2.3" fill="url(#r47)"/><rect x="278.8" y="324.8" width="111.5" height="2.3" fill="url(#r48)"/><rect x="279.2" y="326.8" width="106.5" height="2.3" fill="url(#r49)"/><rect x="279.8" y="328.8" width="101.5" height="2.3" fill="url(#r50)"/><rect x="280.8" y="330.8" width="96.5" height="2.3" fill="url(#r51)"/><rect x="281.2" y="332.8" width="91.5" height="2.3" fill="url(#r52)"/><rect x="281.8" y="334.8" width="86.5" height="2.3" fill="url(#r53)"/><rect x="282.2" y="336.8" width="82" height="2.3" fill="url(#r54)"/><rect x="282.8" y="338.8" width="77" height="2.3" fill="url(#r55)"/><rect x="283.8" y="340.8" width="72" height="2.3" fill="url(#r56)"/><rect x="284.2" y="342.8" width="67" height="2.3" fill="url(#r57)"/><rect x="285.2" y="344.8" width="61.5" height="2.3" fill="url(#r58)"/><rect x="285.8" y="346.8" width="57" height="2.3" fill="url(#r59)"/><rect x="286.8" y="348.8" width="51.5" height="2.3" fill="url(#r60)"/><rect x="287.2" y="350.8" width="46.5" height="2.3" fill="url(#r61)"/><rect x="288.2" y="352.8" width="41.5" height="2.3" fill="url(#r62)"/><rect x="289.2" y="354.8" width="36" height="2.3" fill="url(#r63)"/><rect x="290.2" y="356.8" width="30.5" height="2.3" fill="url(#r64)"/><rect x="291.8" y="358.8" width="25" height="2.3" fill="url(#r65)"/><rect x="292.8" y="360.8" width="19.5" height="2.3" fill="url(#r66)"/><rect x="294.8" y="362.8" width="13.5" height="2.3" fill="url(#r67)"/><rect x="297.2" y="364.8" width="6.5" height="2.3" fill="url(#r68)"/></g><path d="M300.3,365.6L300,365.6L299.6,365.4L295.9,362L294,359.9L292.5,357.6L290.8,354.3L289.2,350.9L285.3,340.7L282.3,330.8L279.2,318.1L276.2,302.8L274.4,290.6L273.4,282.2L272.5,266.4L272.4,259.1L272.5,255.7L273.1,249.1L274,243.5L274.6,241.1L276.2,236.5L277.2,234.7L278.1,233.4L280.3,231.4L281.5,230.6L282.7,230L283.9,229.8L285.2,229.9L287.8,230.4L290.5,231.1L293.2,232.2L298.4,235.1L303.4,238.4L308.2,241.9L313,245.7L322.4,254.1L334.1,265.2L392.3,322.9Z" fill="none" stroke="#1a1a1a" stroke-width="1.05"/><text x="284.5" y="226.5" font-size="6.0" text-anchor="middle" fill="#4646b4" font-family="Liberation Serif" font-weight="bold" stroke="#4646b4" stroke-width="0.18666666666666668" >520</text><text x="315" y="240.3" font-size="6.0" text-anchor="middle" fill="#4646b4" font-family="Liberation Serif" font-weight="bold" stroke="#4646b4" stroke-width="0.18666666666666668" >540</text><text x="338.5" y="261.5" font-size="6.0" text-anchor="middle" fill="#4646b4" font-family="Liberation Serif" font-weight="bold" stroke="#4646b4" stroke-width="0.18666666666666668" >560</text><text x="361.8" y="284.5" font-size="6.0" text-anchor="middle" fill="#4646b4" font-family="Liberation Serif" font-weight="bold" stroke="#4646b4" stroke-width="0.18666666666666668" >580</text><text x="380.2" y="302.5" font-size="6.0" text-anchor="middle" fill="#4646b4" font-family="Liberation Serif" font-weight="bold" stroke="#4646b4" stroke-width="0.18666666666666668" >600</text><text x="391.5" y="313.8" font-size="6.0" text-anchor="middle" fill="#4646b4" font-family="Liberation Serif" font-weight="bold" stroke="#4646b4" stroke-width="0.18666666666666668" >620</text><text x="399.5" y="324.5" font-size="6.0" text-anchor="middle" fill="#4646b4" font-family="Liberation Serif" font-weight="bold" stroke="#4646b4" stroke-width="0.18666666666666668" >700</text><text x="276" y="323.3" font-size="6.0" text-anchor="middle" fill="#4646b4" font-family="Liberation Serif" font-weight="bold" stroke="#4646b4" stroke-width="0.18666666666666668" >490</text><text x="280.2" y="348" font-size="6.0" text-anchor="middle" fill="#4646b4" font-family="Liberation Serif" font-weight="bold" stroke="#4646b4" stroke-width="0.18666666666666668" >480</text><text x="285.5" y="360" font-size="6.0" text-anchor="middle" fill="#4646b4" font-family="Liberation Serif" font-weight="bold" stroke="#4646b4" stroke-width="0.18666666666666668" >470</text><text x="289.3" y="366.3" font-size="6.0" text-anchor="middle" fill="#4646b4" font-family="Liberation Serif" font-weight="bold" stroke="#4646b4" stroke-width="0.18666666666666668" >460</text><text x="307" y="369" font-size="6.0" text-anchor="middle" fill="#4646b4" font-family="Liberation Serif" font-weight="bold" stroke="#4646b4" stroke-width="0.18666666666666668" >380</text><text x="266.7" y="280.3" font-size="6.0" text-anchor="middle" fill="#4646b4" font-family="Liberation Serif" font-weight="bold" stroke="#4646b4" stroke-width="0.18666666666666668" >500</text><path d="M367.3,301.7L366.2,301.2L365.1,300.7L363.9,300.2L362.7,299.8L361.5,299.4L360.3,299.1L359.2,298.9L358,298.7L356.8,298.5L355.7,298.4L354.6,298.4L353.5,298.4L352.5,298.4L351.5,298.5L350.5,298.6L349.6,298.7L348.6,298.8L347.7,299L346.9,299.2L346,299.4L345.2,299.6L344.5,299.8L343.7,300.1L343,300.4L342.2,300.6L341.5,300.9L340.9,301.2L340.2,301.4L339.6,301.7L339,302L338.4,302.3L337.8,302.6L337.2,302.9L336.7,303.2L336.2,303.5L335.7,303.8L335.2,304.1L334.7,304.4L334.2,304.7L334.2,304.7L332.4,305.9L330.8,307L329.3,308L328.1,309L326.9,310L325.9,310.8L325,311.7L324.2,312.4L323.5,313.1L322.8,313.8L322.2,314.4L321.6,315L321.1,315.5L320.7,316L320.2,316.5L319.8,316.9L319.4,317.3L319.1,317.7L318.8,318L318.5,318.4L318.2,318.7L318,319L317.7,319.3L317.5,319.6L317.3,319.8L317.1,320.1L316.9,320.3L316.7,320.5L316.5,320.7L316.4,320.9L316.2,321.1L316.1,321.3L315.9,321.5L315.8,321.6L315.7,321.8L315.6,321.9L315.5,322.1L315.4,322.2L315.2,322.3L315.2,322.5L315.1,322.6L315,322.7L314.9,322.8L314.8,322.9L314.7,323L314.6,323.1L314.6,323.2L314.5,323.3L314.4,323.4L314.4,323.5L314.3,323.6L314.2,323.6L314.2,323.7L314.1,323.8L314.1,323.9L314,323.9L314,324L313.9,324.1L313.9,324.1L313.8,324.2L313.8,324.3L313.7,324.3L313.7,324.4L313.7,324.4L313.6,324.5L313.6,324.5L313.6,324.6L313.5,324.6L313.5,324.7L313.4,324.7L313.4,324.8L313.4,324.8L313.4,324.8L313.3,324.9L313.3,324.9L313.3,325L313.2,325L313.2,325L313.2,325.1L311.1,328" fill="none" stroke="#222" stroke-width="0.6"/><path d="M372.3,296.2L362.2,307.2M362.7,292.7L353.7,304.7M353.9,292.2L346,305M346.7,293.5L340.1,306.9M340.9,295.4L335.6,309.4M336.2,297.5L332.2,311.9M324.1,304.6L325.1,319.5M312.8,309.4L322.8,329" stroke="#222" stroke-width="0.6" fill="none"/><text x="307" y="311" font-size="4.3" text-anchor="middle" fill="#111" font-family="Liberation Serif" font-weight="bold" stroke="#111" stroke-width="0.13377777777777777" >10000</text><text x="323.5" y="301" font-size="4.3" text-anchor="middle" fill="#111" font-family="Liberation Serif" font-weight="bold" stroke="#111" stroke-width="0.13377777777777777" >5000</text><text x="334.2" y="295.2" font-size="4.3" text-anchor="middle" fill="#111" font-family="Liberation Serif" font-weight="bold" stroke="#111" stroke-width="0.13377777777777777" >4000</text><text x="352" y="292.2" font-size="4.3" text-anchor="middle" fill="#111" font-family="Liberation Serif" font-weight="bold" stroke="#111" stroke-width="0.13377777777777777" >2500</text><text x="356" y="308" font-size="4.3" text-anchor="middle" fill="#111" font-family="Liberation Serif" font-weight="bold" stroke="#111" stroke-width="0.13377777777777777" >2000</text><text x="367" y="308" font-size="4.3" text-anchor="middle" fill="#111" font-family="Liberation Serif" font-weight="bold" stroke="#111" stroke-width="0.13377777777777777" >1500</text><text x="305" y="327.5" font-size="4.3" text-anchor="middle" fill="#111" font-family="Liberation Serif" font-weight="bold" stroke="#111" stroke-width="0.13377777777777777" >∞</text><text x="311.5" y="292.5" font-size="6.2" font-family="Liberation Serif" fill="#111">T<tspan font-size="4.3" dy="1.5">c</tspan><tspan dy="-1.5">(K)</tspan></text><ellipse cx="321.6" cy="318" rx="10.8" ry="10.2" fill="none" stroke="#ff1a1a" stroke-width="2.6" stroke-dasharray="2.2 2.6"/><path d="M321.8,304.1L330.8,298.5M337.5,294.3L346.5,288.7M353.2,284.6L362.2,279M368.8,274.8L377.8,269.2M384.5,265L393.5,259.4M400.2,255.3L409.2,249.7M415.9,245.5L424.9,239.9M324.2,328.3L333.9,330.5M341.8,332.3L351.5,334.6M359.4,336.4L369.1,338.6M377,340.4L386.7,342.7M394.6,344.5L404.3,346.7M412.2,348.5L421.9,350.8" stroke="#000" stroke-width="2.7" fill="none"/><path d="M425.5,235.4 L433.8,234.3 L429.7,241.8Z" fill="#000"/><path d="M430.9,349.4 L437.7,354.1 L429.9,356.2Z" fill="#000"/><text x="467.8" y="208.4" font-size="17.2" text-anchor="middle" fill="#000" font-family="Liberation Serif" font-weight="bold" stroke="#000" stroke-width="0.28" letter-spacing="0.5">(f)</text><line x1="483.75" y1="354.8" x2="483.75" y2="351.8" stroke="#000" stroke-width="1" /><line x1="483.75" y1="354.8" x2="486.75" y2="354.8" stroke="#000" stroke-width="1" /><line x1="528.26" y1="354.8" x2="528.26" y2="353" stroke="#000" stroke-width="1" /><line x1="483.75" y1="321.77" x2="485.55" y2="321.77" stroke="#000" stroke-width="1" /><line x1="572.77" y1="354.8" x2="572.77" y2="351.8" stroke="#000" stroke-width="1" /><line x1="483.75" y1="288.75" x2="486.75" y2="288.75" stroke="#000" stroke-width="1" /><line x1="617.29" y1="354.8" x2="617.29" y2="353" stroke="#000" stroke-width="1" /><line x1="483.75" y1="255.72" x2="485.55" y2="255.72" stroke="#000" stroke-width="1" /><line x1="661.8" y1="354.8" x2="661.8" y2="351.8" stroke="#000" stroke-width="1" /><line x1="483.75" y1="222.7" x2="486.75" y2="222.7" stroke="#000" stroke-width="1" /><text x="483.75" y="364.8" font-size="7.2" text-anchor="middle" fill="#000" font-family="Liberation Serif" font-weight="bold" stroke="#000" stroke-width="0.22400000000000003" >0.30</text><text x="481.5" y="357.1" font-size="7.2" text-anchor="end" fill="#000" font-family="Liberation Serif" font-weight="bold" stroke="#000" stroke-width="0.22400000000000003" >0.30</text><text x="572.77" y="364.8" font-size="7.2" text-anchor="middle" fill="#000" font-family="Liberation Serif" font-weight="bold" stroke="#000" stroke-width="0.22400000000000003" >0.35</text><text x="481.5" y="291.05" font-size="7.2" text-anchor="end" fill="#000" font-family="Liberation Serif" font-weight="bold" stroke="#000" stroke-width="0.22400000000000003" >0.35</text><text x="661.8" y="364.8" font-size="7.2" text-anchor="middle" fill="#000" font-family="Liberation Serif" font-weight="bold" stroke="#000" stroke-width="0.22400000000000003" >0.40</text><text x="481.5" y="225" font-size="7.2" text-anchor="end" fill="#000" font-family="Liberation Serif" font-weight="bold" stroke="#000" stroke-width="0.22400000000000003" >0.40</text><rect x="483.75" y="222.7" width="178.05" height="132.1" fill="none" stroke="#000" stroke-width="1.4"/><path d="M660.7,239.4L658.1,240.4L655.6,241.5L653,242.5L650.6,243.5L648.1,244.6L645.7,245.6L643.3,246.6L640.9,247.7L638.6,248.7L636.3,249.7L634,250.8L631.8,251.8L629.5,252.8L627.3,253.8L625,254.9L622.9,255.9L620.8,256.9L618.7,257.9L616.6,258.9L614.6,259.9L612.6,260.8L610.6,261.8L608.7,262.8L606.7,263.7L604.8,264.7L603,265.6L601.1,266.6L599.3,267.5L597.5,268.5L595.7,269.4L593.9,270.3L592.2,271.3L590.4,272.2L588.7,273.1L587.1,274L585.4,274.9L583.8,275.8L582.2,276.7L580.6,277.6L579,278.4L577.4,279.3L575.9,280.2L574.4,281L572.9,281.9L571.4,282.8L569.9,283.6L568.5,284.4L567,285.3L565.6,286.1L564.2,286.9L562.9,287.7L561.5,288.6L560.1,289.4L558.8,290.2L557.5,291L556.2,291.8L554.9,292.5L553.7,293.3L552.4,294.1L551.2,294.9L549.9,295.6L548.7,296.4L547.5,297.1L546.3,297.9L545.2,298.6L544,299.4L542.9,300.1L541.7,300.8L540.6,301.5L539.5,302.3L538.4,303L537.3,303.7L536.3,304.4L535.2,305.1L534.2,305.8L533.1,306.4L532.1,307.1L531.1,307.8L530.1,308.5L529.1,309.1L528.1,309.8L527.1,310.5L526.2,311.1L525.2,311.8L524.3,312.4L523.4,313L522.4,313.7L521.5,314.3L520.6,314.9L519.7,315.5L518.9,316.2L518,316.8L517.1,317.4L516.3,318L515.4,318.6L514.6,319.2L513.8,319.7L512.9,320.3L512.1,320.9L511.3,321.5L510.5,322.1L509.7,322.6L509,323.2L508.2,323.7L507.4,324.3L506.7,324.8L505.9,325.4L505.2,325.9L504.4,326.5L503.7,327L503,327.5L502.3,328.1L501.6,328.6L500.9,329.1L500.2,329.6L499.5,330.1L498.8,330.6L498.1,331.1L497.5,331.6L496.8,332.1L496.2,332.6L495.5,333.1L494.9,333.6L494.2,334.1L493.6,334.6L493,335L492.4,335.5L491.7,336L491.1,336.5L490.5,336.9L489.9,337.4L489.3,337.8L488.8,338.3L488.2,338.7L487.6,339.2L487,339.6L486.5,340.1L485.9,340.5L485.3,340.9L484.8,341.4L484.2,341.8" fill="none" stroke="#000" stroke-width="1.15"/><text x="0" y="0" font-size="10.3" text-anchor="middle" fill="#000" stroke="#000" stroke-width="0.28" font-family="Liberation Serif" font-weight="bold" transform="translate(462.3,288.9) rotate(-90)" dominant-baseline="central">CIE y</text><text x="572.9" y="380.5" font-size="10.3" text-anchor="middle" fill="#000" font-family="Liberation Serif" font-weight="bold" stroke="#000" stroke-width="0.28" >CIE x</text><text x="518.3" y="255.8" font-size="10.8" font-family="Liberation Serif" font-weight="bold">T<tspan font-size="7" dy="2.6">C</tspan><tspan dy="-2.6">(</tspan><tspan font-size="6.5" dy="-4.2">o</tspan><tspan dy="4.2">K)</tspan></text><text x="540.2" y="285.8" font-size="8.2" text-anchor="middle" fill="#000" font-family="Liberation Serif" font-weight="bold" stroke="#000" stroke-width="0.2551111111111111" >30mA</text><text x="512.3" y="306" font-size="8.2" text-anchor="middle" fill="#000" font-family="Liberation Serif" font-weight="bold" stroke="#000" stroke-width="0.2551111111111111" >180mA</text><line x1="531.5" y1="288.5" x2="525" y2="295" stroke="#000" stroke-width="1" /><path d="M522.3,297.7 L524,292.6 L527.4,296Z" fill="#000"/><ellipse cx="536.4" cy="299.4" rx="2.7" ry="2" transform="rotate(-30 536.4 299.4)" fill="none" stroke="#ff2020" stroke-width="0.7"/><ellipse cx="535.4" cy="300.2" rx="2" ry="1.6" transform="rotate(-30 535.4 300.2)" fill="none" stroke="#ff2020" stroke-width="0.7"/></svg></body></html>
